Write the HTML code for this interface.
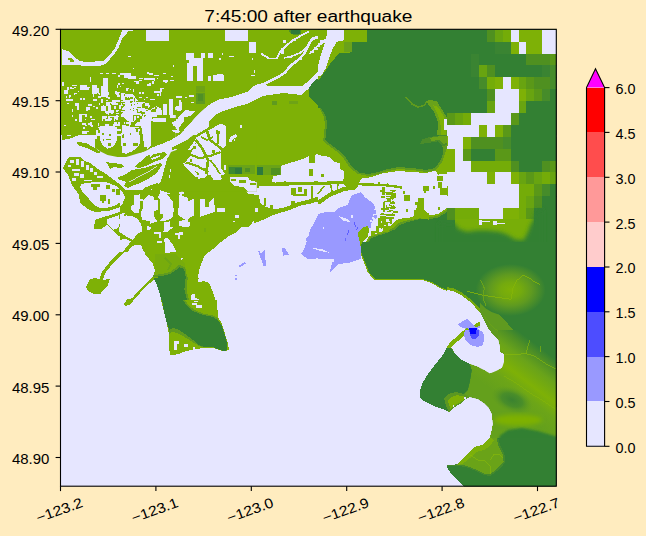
<!DOCTYPE html>
<html><head><meta charset="utf-8"><title>7:45:00 after earthquake</title>
<style>
html,body{margin:0;padding:0;background:#ffecbf;}
svg{display:block}
text{font-family:"Liberation Sans",sans-serif;fill:#000}
</style></head><body>
<svg width="646" height="536" viewBox="0 0 646 536">
<rect x="0" y="0" width="646" height="536" fill="#ffecbf"/>
<defs><clipPath id="ax"><rect x="60.5" y="29.3" width="495.8" height="456.9"/></clipPath><filter id="bl1" x="-20%" y="-20%" width="140%" height="140%"><feGaussianBlur stdDeviation="1.3"/></filter><filter id="bl2" x="-20%" y="-20%" width="140%" height="140%"><feGaussianBlur stdDeviation="2.2"/></filter><filter id="bl0" x="-20%" y="-20%" width="140%" height="140%"><feGaussianBlur stdDeviation="0.8"/></filter></defs>
<g clip-path="url(#ax)" shape-rendering="crispEdges">
<rect x="60" y="29" width="497" height="458" fill="#e6e6ff"/>
<rect fill="#7eb106" x="60.0" y="28.0" width="129.2" height="107.2"/>
<polygon fill="#e6e6ff" points="61.6,49.0 69.0,51.6 74.0,57.0 80.0,61.0 86.0,62.0 103.0,61.0 109.0,56.0 115.0,48.0 120.0,36.0 122.0,30.4 134.0,30.4 129.0,30.8 122.4,38.0 118.4,48.0 112.8,56.0 105.4,64.0 98.0,66.4 85.0,66.4 79.0,65.0 61.6,65.0"/>
<polygon fill="#7eb106" points="67.6,57.6 71.0,57.6 74.4,61.0 74.4,62.4 70.0,62.4 70.0,60.0 67.6,60.0"/>
<rect fill="#e6e6ff" x="146.0" y="30.4" width="23.0" height="10.6"/>
<rect fill="#e6e6ff" x="186.0" y="53.0" width="3.2" height="7.0"/>
<rect fill="#e6e6ff" x="187.2" y="63.0" width="2.0" height="18.0"/>
<path fill="#e6e6ff" d="M124.0 73.4H131.0V78.4H124.0ZM120.0 73.4H124.4V74.6H120.0ZM100.0 73.0H103.0V73.8H100.0ZM106.0 73.0H109.0V73.8H106.0ZM112.4 73.0H116.0V73.8H112.4ZM90.0 77.0H91.0V82.0H90.0ZM62.4 81.6H63.6V86.0H62.4ZM103.0 78.0H108.0V88.0H103.0ZM101.0 86.0H108.0V97.0H101.0ZM92.0 85.0H97.0V94.0H92.0ZM70.0 86.6H72.0V87.6H70.0ZM74.0 86.6H76.0V87.6H74.0ZM80.0 86.6H83.0V87.6H80.0ZM86.0 86.6H89.6V87.6H86.0ZM117.0 85.0H118.4V88.0H117.0ZM128.0 56.0H131.0V57.2H128.0ZM133.0 67.6H134.2V68.8H133.0ZM173.4 65.4H174.4V66.6H173.4Z"/>
<rect fill="#7eb106" x="189.0" y="28.0" width="129.2" height="107.2"/>
<rect fill="#e6e6ff" x="225.0" y="30.4" width="23.0" height="10.6"/>
<rect fill="#e6e6ff" x="249.0" y="42.0" width="7.0" height="11.0"/>
<path fill="#e6e6ff" d="M189.0 53.0H194.0V58.0H189.0ZM189.0 58.0H203.0V66.0H189.0ZM189.0 66.0H193.0V81.0H189.0ZM197.0 66.0H203.0V81.0H197.0ZM201.0 53.0H205.0V58.0H201.0ZM208.0 53.0H213.0V58.0H208.0ZM208.0 76.0H210.6V81.0H208.0ZM213.0 75.0H224.0V81.0H213.0ZM217.0 73.6H223.0V76.0H217.0ZM219.0 58.0H220.6V60.0H219.0ZM222.0 53.0H223.0V55.0H222.0ZM229.0 56.0H234.0V57.0H229.0ZM252.0 58.0H253.4V60.0H252.0ZM254.0 70.0H255.4V73.0H254.0ZM251.0 75.4H255.4V76.4H251.0Z"/>
<polygon fill="#6ea315" points="196.0,86.0 205.0,86.0 205.0,102.0 196.0,102.0"/>
<rect fill="#5f9a1e" x="272.0" y="101.0" width="5.0" height="4.0"/>
<rect fill="#6ea315" x="289.0" y="101.0" width="9.0" height="3.0"/>
<polygon fill="#4f8f28" points="289.0,30.4 301.0,30.4 301.0,34.0 295.0,35.6 290.0,33.0"/>
<polygon fill="#e6e6ff" points="189.0,125.0 195.0,117.4 200.0,112.4 205.8,107.4 211.0,103.6 219.0,99.6 231.0,97.0 247.0,92.0 253.0,86.0 259.0,84.0 267.0,85.6 302.0,86.0 309.0,81.0 318.2,71.0 318.2,80.4 313.0,84.0 307.0,90.0 301.0,95.0 283.0,93.0 263.0,96.0 247.0,104.0 235.0,107.0 223.0,111.0 215.0,115.0 209.0,122.0 201.0,130.0 195.0,135.2 189.0,135.2"/>
<polyline fill="none" stroke="#e6e6ff" stroke-width="2.6" points="259.0,86.0 269.0,81.6 279.0,76.6 285.0,72.4 291.0,65.4 298.0,60.0 304.0,54.0 308.0,46.0 312.0,39.0 318.2,37.0"/>
<polyline fill="none" stroke="#e6e6ff" stroke-width="1.8" points="261.0,53.6 269.0,58.4 277.0,58.4 280.0,52.0 287.0,45.0 293.0,40.4 301.0,35.6 309.0,31.6"/>
<path fill="#e6e6ff" d="M310.0 51.0H314.0V53.0H310.0ZM314.0 48.0H318.2V50.4H314.0ZM259.0 84.6H261.4V86.6H259.0Z"/>
<polygon fill="#338033" points="318.2,78.0 313.0,82.0 309.0,88.0 309.0,96.0 314.0,102.0 318.2,105.0"/>
<rect fill="#338033" x="318.0" y="28.0" width="129.2" height="107.2"/>
<polygon fill="#7eb106" points="318.0,30.4 367.0,30.4 367.0,41.6 352.0,41.6 352.0,52.4 339.0,53.0 335.0,58.0 330.0,64.0 326.0,70.0 321.0,77.0 318.0,80.4"/>
<rect fill="#6aa21a" x="344.0" y="42.0" width="8.0" height="10.4"/>
<polygon fill="#e6e6ff" points="327.0,30.4 344.0,30.4 344.0,40.4 337.0,41.6 333.0,48.0 329.0,58.0 326.0,68.0 321.0,76.0 318.0,76.0 318.0,66.0 320.0,58.0 324.0,46.0 327.0,34.0"/>
<path fill="#e6e6ff" d="M318.0 43.0H320.4V47.0H318.0ZM320.0 40.4H324.0V43.0H320.0ZM323.6 39.0H327.0V41.0H323.6Z"/>
<polygon fill="#7eb106" points="318.0,108.0 321.0,108.0 325.6,116.0 327.4,124.0 325.6,135.2 318.0,135.2"/>
<polygon fill="#5a9822" points="321.0,108.0 325.6,116.0 327.4,124.0 325.6,135.2 323.6,135.2 325.2,124.0 323.6,116.0 319.6,108.0"/>
<polyline fill="none" stroke="#5f9a1e" stroke-width="1.4" points="406.0,97.0 412.0,104.0 418.0,107.0 424.0,105.6 427.0,101.6"/>
<polygon fill="#6aa21a" points="426.0,101.6 430.0,99.6 437.0,101.6 443.6,112.0 447.2,118.0 447.2,135.2 437.2,135.2 438.0,122.0 434.0,112.0 430.0,106.4"/>
<polygon fill="#7eb106" points="433.0,105.0 438.0,107.0 443.0,115.0 446.0,122.0 446.0,135.2 441.0,135.2 440.4,122.0 437.0,113.0"/>
<rect fill="#e6e6ff" x="444.0" y="119.0" width="3.2" height="11.0"/>
<rect fill="#338033" x="447.0" y="28.0" width="112.0" height="107.2"/>
<rect fill="#338033" x="446.9" y="29.7" width="40.0" height="12.2"/>
<rect fill="#4f9020" x="486.7" y="29.7" width="8.3" height="12.2"/>
<rect fill="#68a410" x="494.6" y="29.7" width="8.2" height="12.2"/>
<rect fill="#74ac08" x="502.6" y="29.7" width="8.2" height="12.2"/>
<rect fill="#e6e6ff" x="510.5" y="29.7" width="8.3" height="12.2"/>
<rect fill="#7eb106" x="518.5" y="29.7" width="24.1" height="12.2"/>
<rect fill="#e6e6ff" x="542.3" y="29.7" width="16.2" height="12.2"/>
<rect fill="#338033" x="446.9" y="41.6" width="48.0" height="12.2"/>
<rect fill="#3a8432" x="494.6" y="41.6" width="16.2" height="12.2"/>
<rect fill="#7eb106" x="510.5" y="41.6" width="8.3" height="12.2"/>
<rect fill="#e6e6ff" x="518.5" y="41.6" width="8.2" height="12.2"/>
<rect fill="#7eb106" x="526.4" y="41.6" width="16.2" height="12.2"/>
<rect fill="#e6e6ff" x="542.3" y="41.6" width="16.2" height="12.2"/>
<rect fill="#338033" x="446.9" y="53.5" width="24.2" height="12.2"/>
<rect fill="#3a8432" x="470.8" y="53.5" width="8.2" height="12.2"/>
<rect fill="#338033" x="478.7" y="53.5" width="48.0" height="12.2"/>
<rect fill="#4f9020" x="526.4" y="53.5" width="24.2" height="12.2"/>
<rect fill="#5a9818" x="550.3" y="53.5" width="8.3" height="12.2"/>
<rect fill="#338033" x="446.9" y="65.4" width="24.2" height="12.2"/>
<rect fill="#3a8432" x="470.8" y="65.4" width="8.2" height="12.2"/>
<rect fill="#68a410" x="478.7" y="65.4" width="8.2" height="12.2"/>
<rect fill="#4f9020" x="486.7" y="65.4" width="8.3" height="12.2"/>
<rect fill="#338033" x="494.6" y="65.4" width="48.0" height="12.2"/>
<rect fill="#3a8432" x="542.3" y="65.4" width="8.3" height="12.2"/>
<rect fill="#468c2a" x="550.3" y="65.4" width="8.3" height="12.2"/>
<rect fill="#338033" x="446.9" y="77.3" width="32.1" height="12.2"/>
<rect fill="#468c2a" x="478.7" y="77.3" width="8.2" height="12.2"/>
<rect fill="#74ac08" x="486.7" y="77.3" width="8.3" height="12.2"/>
<rect fill="#7eb106" x="494.6" y="77.3" width="8.2" height="12.2"/>
<rect fill="#e6e6ff" x="502.6" y="77.3" width="8.2" height="12.2"/>
<rect fill="#7eb106" x="510.5" y="77.3" width="8.3" height="12.2"/>
<rect fill="#68a410" x="518.5" y="77.3" width="8.2" height="12.2"/>
<rect fill="#5a9818" x="526.4" y="77.3" width="8.3" height="12.2"/>
<rect fill="#4f9020" x="534.4" y="77.3" width="16.2" height="12.2"/>
<rect fill="#468c2a" x="550.3" y="77.3" width="8.3" height="12.2"/>
<rect fill="#338033" x="446.9" y="89.2" width="40.0" height="12.2"/>
<rect fill="#4f9020" x="486.7" y="89.2" width="8.3" height="12.2"/>
<rect fill="#e6e6ff" x="494.6" y="89.2" width="24.2" height="12.2"/>
<rect fill="#7eb106" x="518.5" y="89.2" width="8.2" height="12.2"/>
<rect fill="#68a410" x="526.4" y="89.2" width="8.3" height="12.2"/>
<rect fill="#5a9818" x="534.4" y="89.2" width="8.2" height="12.2"/>
<rect fill="#468c2a" x="542.3" y="89.2" width="8.3" height="12.2"/>
<rect fill="#338033" x="550.3" y="89.2" width="8.3" height="12.2"/>
<rect fill="#338033" x="446.9" y="101.1" width="40.0" height="12.2"/>
<rect fill="#68a410" x="486.7" y="101.1" width="8.3" height="12.2"/>
<rect fill="#e6e6ff" x="494.6" y="101.1" width="24.2" height="12.2"/>
<rect fill="#68a410" x="518.5" y="101.1" width="8.2" height="12.2"/>
<rect fill="#338033" x="526.4" y="101.1" width="32.1" height="12.2"/>
<rect fill="#5a9818" x="446.9" y="112.9" width="8.3" height="12.2"/>
<rect fill="#68a410" x="454.9" y="112.9" width="8.2" height="12.2"/>
<rect fill="#74ac08" x="462.8" y="112.9" width="8.2" height="12.2"/>
<rect fill="#e6e6ff" x="470.8" y="112.9" width="40.0" height="12.2"/>
<rect fill="#5a9818" x="510.5" y="112.9" width="8.3" height="12.2"/>
<rect fill="#338033" x="518.5" y="112.9" width="40.0" height="12.2"/>
<rect fill="#e6e6ff" x="446.9" y="124.8" width="32.1" height="12.2"/>
<rect fill="#7eb106" x="478.7" y="124.8" width="8.2" height="12.2"/>
<rect fill="#e6e6ff" x="486.7" y="124.8" width="8.3" height="12.2"/>
<rect fill="#7eb106" x="494.6" y="124.8" width="8.2" height="12.2"/>
<rect fill="#5a9818" x="502.6" y="124.8" width="8.2" height="12.2"/>
<rect fill="#338033" x="510.5" y="124.8" width="48.0" height="12.2"/>
<polygon fill="#7eb106" points="61.6,135.0 79.0,135.0 70.0,138.6 61.6,140.0"/>
<polygon fill="#7eb106" points="77.0,142.0 86.0,143.0 96.0,148.6 100.4,152.0 98.0,153.4 88.0,148.4 78.0,145.0"/>
<polygon fill="#7eb106" points="100.0,135.0 101.0,143.0 108.0,148.0 110.0,155.0 126.0,156.6 138.0,153.0 148.0,148.0 151.0,135.0"/>
<path fill="#e6e6ff" d="M103.0 135.0H109.0V142.0H103.0ZM112.4 139.0H116.0V147.0H112.4ZM120.0 135.0H124.0V141.0H120.0ZM120.0 143.0H128.0V146.0H120.0ZM128.0 135.0H133.0V144.0H128.0ZM136.0 135.0H140.0V141.0H136.0ZM142.4 135.0H148.0V139.0H142.4ZM126.0 149.0H132.0V152.0H126.0ZM139.0 145.0H143.0V149.0H139.0ZM110.0 135.0H112.4V138.0H110.0Z"/>
<polygon fill="#7eb106" points="151.0,135.0 174.0,135.0 171.2,137.4 165.0,142.0 158.8,145.0 152.4,147.0 150.4,147.0 150.0,143.0"/>
<polygon fill="#7eb106" points="146.0,156.0 164.0,152.0 167.0,154.0 162.0,159.0 154.0,162.0 148.0,165.0 139.0,168.0 134.0,167.0 140.0,162.0"/>
<polygon fill="#e6e6ff" points="151.0,158.0 160.0,155.0 161.0,156.2 152.0,160.0"/>
<polygon fill="#7eb106" points="117.0,178.0 126.0,174.0 132.0,170.0 144.0,168.0 154.0,165.0 160.0,163.0 162.0,165.0 158.0,171.0 154.0,175.0 148.0,179.0 140.0,183.0 132.0,186.0 128.0,188.0 124.0,186.0 126.0,182.0 120.0,180.0"/>
<polyline fill="none" stroke="#e6e6ff" stroke-width="0.8" points="129.0,182.0 140.0,176.0 150.0,171.0 157.0,166.0"/>
<polygon fill="#7eb106" points="144.0,188.0 154.0,184.0 158.4,182.6 156.4,187.0 148.0,191.0 143.0,191.0"/>
<polygon fill="#7eb106" points="105.0,162.0 112.0,163.0 122.0,164.0 124.0,167.0 120.0,168.0 114.0,167.0 110.0,169.4 108.0,165.0"/>
<polygon fill="#7eb106" points="63.0,168.0 66.0,162.0 69.0,157.0 80.0,156.6 84.0,161.0 90.0,163.0 98.0,169.0 106.0,174.0 114.0,180.0 122.0,186.0 126.0,191.0 127.0,197.0 124.0,203.0 118.0,208.0 110.0,210.6 102.0,211.4 95.0,212.0 88.0,209.0 80.0,203.0 79.0,195.0 72.0,185.0 68.0,175.0"/>
<polygon fill="#e6e6ff" points="81.0,184.0 90.0,182.6 100.0,181.6 108.0,182.6 116.0,186.0 122.4,192.0 124.0,197.0 121.0,202.0 114.0,206.0 106.0,208.0 100.0,208.0 94.0,205.0 89.0,199.0 83.0,193.0 80.0,187.4"/>
<path fill="#7eb106" d="M91.0 184.0H100.0V187.4H91.0ZM93.0 187.4H97.0V190.0H93.0ZM106.0 185.0H110.0V189.4H106.0ZM116.0 189.4H119.6V195.0H116.0ZM100.0 195.0H106.0V200.6H100.0ZM102.0 200.6H104.4V203.0H102.0ZM108.0 198.6H110.0V204.0H108.0ZM112.4 189.0H115.0V192.0H112.4Z"/>
<path fill="#e6e6ff" d="M70.0 160.0H74.0V163.0H70.0ZM76.0 158.6H79.0V165.0H76.0ZM81.0 161.0H83.6V167.0H81.0ZM72.0 169.0H80.0V171.0H72.0ZM74.0 173.0H79.0V176.0H74.0ZM80.0 174.0H84.0V178.0H80.0ZM86.0 165.0H89.0V170.0H86.0ZM90.0 168.0H93.0V172.0H90.0ZM94.0 172.0H97.0V175.0H94.0ZM84.0 180.0H92.0V181.4H84.0ZM72.0 178.0H76.0V180.6H72.0ZM68.0 165.0H71.0V167.0H68.0ZM97.0 176.0H103.0V178.0H97.0Z"/>
<polygon fill="#7eb106" points="189.2,152.0 182.0,150.0 177.0,151.0 172.0,153.0 168.0,157.0 166.0,163.0 164.0,170.0 162.0,178.0 160.0,183.0 154.0,188.0 149.0,192.0 143.0,193.0 139.0,192.0 134.0,192.0 131.0,195.0 129.0,201.0 127.0,206.0 122.0,211.0 114.0,214.0 107.0,216.0 100.0,218.0 95.0,220.0 94.0,229.0 101.0,229.4 107.0,224.6 113.0,230.6 119.0,236.0 128.0,239.0 134.0,242.2 189.2,242.2"/>
<polygon fill="#e6e6ff" points="133.0,195.0 140.0,194.0 140.0,202.0 143.0,202.0 143.0,211.0 140.0,211.0 137.0,214.0 132.0,214.0 130.0,209.0 131.0,201.0"/>
<polygon fill="#e6e6ff" points="144.0,195.0 160.0,193.0 160.0,201.0 157.0,202.0 157.0,209.0 154.0,212.0 154.0,219.0 148.0,221.0 143.0,219.0 143.0,212.0 144.4,212.0"/>
<polygon fill="#e6e6ff" points="161.0,199.0 169.0,199.0 169.0,205.0 164.0,205.0 164.0,215.0 160.0,215.0 160.0,201.0"/>
<polygon fill="#e6e6ff" points="166.0,220.0 189.2,219.0 189.2,221.4 178.0,222.2 178.0,228.0 166.0,228.0"/>
<polygon fill="#e6e6ff" points="184.4,163.0 189.2,160.6 189.2,172.6 185.0,168.0"/>
<rect fill="#e6e6ff" x="180.8" y="192.0" width="1.8" height="4.6"/>
<polygon fill="#e6e6ff" points="107.0,219.0 114.0,217.0 119.0,215.0 120.0,223.0 118.0,228.0 113.0,230.0 107.0,224.0"/>
<polygon fill="#e6e6ff" points="122.0,214.0 126.0,213.0 132.0,215.0 139.0,219.0 140.0,223.0 148.0,223.0 148.0,230.0 142.0,233.0 138.0,235.0 130.0,239.0 128.0,235.0 120.0,235.0 119.0,229.0 121.0,223.0"/>
<polygon fill="#e6e6ff" points="151.0,226.0 160.0,225.0 166.0,229.0 166.0,233.0 160.0,233.0 160.0,242.2 156.0,242.2 156.0,233.0 151.0,233.0"/>
<path fill="#7eb106" d="M141.0 201.0H142.4V207.0H141.0ZM154.0 214.0H156.0V218.0H154.0ZM124.0 215.0H126.0V217.4H124.0ZM129.0 214.0H130.4V216.0H129.0Z"/>
<path fill="#e6e6ff" d="M178.0 235.0H183.0V238.0H178.0ZM180.0 232.0H182.4V235.0H180.0ZM174.0 202.0H176.0V205.0H174.0ZM169.0 175.0H170.4V178.0H169.0ZM170.0 169.0H171.2V172.0H170.0Z"/>
<polygon fill="#7eb106" points="189.0,135.0 318.2,135.0 318.2,201.0 309.0,204.0 301.0,205.4 291.0,209.4 283.0,212.0 273.0,215.0 265.0,219.0 255.0,223.0 247.0,226.0 239.0,229.0 235.0,233.0 229.0,237.0 221.0,242.2 189.0,242.2"/>
<polygon fill="#e6e6ff" points="189.0,142.0 195.0,139.0 198.0,135.0 206.0,135.0 208.0,141.0 213.0,145.0 219.0,143.4 223.0,146.0 224.0,155.0 222.0,165.0 223.0,175.0 227.0,182.6 221.0,180.6 209.0,177.4 201.0,175.0 189.0,174.0"/>
<polyline fill="none" stroke="#7eb106" stroke-width="4.4" points="189.0,147.0 201.0,159.0 211.0,169.0 222.0,178.0 229.0,183.0"/>
<polyline fill="none" stroke="#7eb106" stroke-width="3.6" points="195.0,152.0 207.0,155.0 219.0,151.0"/>
<polyline fill="none" stroke="#7eb106" stroke-width="3.6" points="189.0,161.0 199.0,165.0 206.0,174.0"/>
<polyline fill="none" stroke="#7eb106" stroke-width="5.2" points="221.0,143.0 219.0,159.0 221.0,175.0"/>
<polyline fill="none" stroke="#7eb106" stroke-width="3.2" points="201.0,141.0 209.0,149.0 215.0,163.0"/>
<polyline fill="none" stroke="#7eb106" stroke-width="2.8" points="189.0,155.0 197.0,154.0 201.0,147.0"/>
<path fill="#7eb106" d="M204.0 165.0H208.0V170.0H204.0ZM193.0 147.0H198.0V151.0H193.0ZM209.0 139.0H215.0V144.0H209.0Z"/>
<polygon fill="#e6e6ff" points="280.0,166.0 293.0,162.0 304.0,158.6 309.0,156.0 309.0,163.0 315.0,163.0 315.0,155.0 318.2,153.4 318.2,181.4 293.0,182.0 285.0,181.4 275.0,182.6 272.0,182.0 273.0,176.0 280.0,175.0"/>
<rect fill="#7eb106" x="309.0" y="169.0" width="4.0" height="7.0"/>
<polygon fill="#e6e6ff" points="259.0,186.0 318.2,185.0 318.2,196.6 309.0,199.4 301.0,201.4 291.0,205.0 283.0,207.8 274.0,209.4 266.0,207.0 260.0,203.0 259.0,195.0 249.0,195.0 249.0,188.0 259.0,188.0"/>
<polygon fill="#e6e6ff" points="233.0,183.0 249.0,186.0 249.0,195.0 245.0,189.0 232.0,185.0"/>
<path fill="#7eb106" d="M291.0 188.0H296.0V195.0H291.0ZM298.0 187.4H302.0V192.0H298.0ZM304.0 189.0H307.0V196.0H304.0ZM293.0 194.0H305.0V196.0H293.0ZM264.0 198.0H266.0V206.0H264.0ZM270.0 205.0H273.0V210.0H270.0ZM291.0 201.0H295.0V208.0H291.0ZM311.0 186.0H313.0V199.0H311.0ZM297.0 202.0H305.0V203.4H297.0Z"/>
<path fill="#e6e6ff" d="M189.0 199.0H197.0V217.0H189.0ZM199.0 199.0H214.0V202.0H199.0ZM199.0 202.0H209.0V212.0H199.0ZM199.0 212.0H203.0V216.6H199.0ZM217.0 208.0H224.0V212.0H217.0ZM234.0 215.0H238.0V217.0H234.0ZM231.0 220.0H233.4V222.2H231.0ZM255.0 208.0H258.0V212.0H255.0Z"/>
<rect fill="#6aa318" x="228.0" y="165.0" width="53.0" height="10.0"/>
<rect fill="#2e7a3c" x="229.0" y="166.6" width="13.0" height="7.4"/>
<rect fill="#4f9020" x="243.0" y="167.0" width="13.0" height="5.0"/>
<rect fill="#2e7a3c" x="257.0" y="167.4" width="6.0" height="7.2"/>
<rect fill="#4f9020" x="271.0" y="168.0" width="9.0" height="6.6"/>
<polygon fill="#9999ff" points="318.2,221.0 315.4,223.0 314.6,221.4 313.0,225.0 311.4,229.0 309.0,235.0 306.0,239.0 307.0,242.2 318.2,242.2"/>
<rect fill="#e6e6ff" x="318.0" y="135.0" width="129.2" height="107.2"/>
<polygon fill="#7eb106" points="318.0,135.0 447.2,135.0 447.2,174.0 438.0,174.6 436.0,170.6 426.0,173.0 412.0,172.0 398.0,171.0 382.0,173.4 370.0,177.4 361.0,178.6 360.0,181.4 357.0,188.0 348.0,189.0 342.0,183.0 344.0,178.0 344.0,171.0 340.0,169.0 340.0,163.0 334.0,162.0 330.0,157.0 324.0,156.0 318.0,155.0"/>
<polygon fill="#5f9a20" points="324.0,135.0 323.0,141.0 328.0,145.0 336.0,151.0 344.0,159.0 350.0,168.0 358.0,174.0 368.0,176.0 378.0,174.0 386.0,171.6 398.0,169.0 412.0,170.0 426.0,172.0 436.0,170.0 442.0,162.0 445.2,153.0 447.2,147.0 447.2,135.0"/>
<polygon fill="#338033" points="326.0,135.0 325.2,140.0 330.0,144.0 338.0,150.0 346.0,158.0 352.0,167.0 359.6,172.6 368.0,174.0 378.0,172.0 386.0,169.6 398.0,167.0 412.0,168.0 426.0,170.0 435.0,168.0 440.4,160.6 443.4,153.0 442.4,146.0 438.0,141.4 430.0,142.6 420.0,144.0 422.0,139.4 430.0,137.0 442.0,135.0"/>
<polygon fill="#4a8c2a" points="422.0,139.4 430.0,137.0 442.0,135.0 447.2,135.0 447.2,145.0 442.4,146.0 438.0,141.4 430.0,142.6 420.0,144.0"/>
<polygon fill="#6aa31a" points="430.0,137.8 442.0,135.8 447.2,135.8 447.2,143.0 443.0,144.0 439.0,140.0 431.0,141.0"/>
<rect fill="#7eb106" x="321.0" y="174.0" width="2.6" height="3.0"/>
<polyline fill="none" stroke="#7eb106" stroke-width="3.2" points="318.0,183.6 344.0,182.2 358.0,185.4"/>
<polyline fill="none" stroke="#7eb106" stroke-width="4.0" points="318.0,203.0 330.0,194.6 344.0,189.0 356.0,187.4"/>
<polyline fill="none" stroke="#7eb106" stroke-width="1.6" points="318.0,194.0 324.0,186.0"/>
<polyline fill="none" stroke="#7eb106" stroke-width="1.6" points="330.4,183.0 332.4,193.4"/>
<polyline fill="none" stroke="#7eb106" stroke-width="1.6" points="338.0,183.0 337.0,193.0"/>
<polyline fill="none" stroke="#7eb106" stroke-width="2.4" points="358.0,184.2 384.0,185.0 402.0,187.4"/>
<path fill="#7eb106" d="M382.0 187.4H385.0V195.0H382.0ZM386.0 192.0H390.0V195.0H386.0ZM391.0 193.0H396.0V197.0H391.0ZM387.0 198.0H391.0V202.0H387.0ZM383.0 202.0H385.0V211.0H383.0ZM391.0 206.0H395.0V209.0H391.0ZM378.0 182.0H380.4V184.0H378.0ZM387.0 183.0H388.4V187.4H387.0ZM400.0 186.0H402.0V189.0H400.0ZM403.0 191.0H405.0V194.0H403.0ZM404.0 195.0H410.0V201.0H404.0ZM423.0 186.0H429.0V191.0H423.0ZM424.0 191.0H426.0V193.4H424.0ZM418.0 198.0H423.0V205.0H418.0ZM420.0 205.0H423.0V217.0H420.0ZM415.0 202.0H418.0V205.0H415.0ZM437.0 176.0H443.0V181.0H437.0ZM438.0 182.0H442.0V188.0H438.0ZM440.0 188.0H447.2V195.0H440.0ZM438.0 207.0H440.4V210.0H438.0ZM433.0 186.0H435.0V188.6H433.0ZM406.0 209.4H408.4V212.0H406.0ZM414.0 210.0H418.0V217.0H414.0ZM388.0 199.0H390.0V201.0H388.0Z"/>
<polygon fill="#9999ff" points="352.0,195.0 361.0,192.0 368.0,201.0 375.0,206.0 376.0,213.0 378.0,217.0 372.0,221.0 370.4,229.0 366.0,226.0 360.0,231.0 357.0,242.2 318.0,242.2 318.0,214.0 326.0,212.0 336.0,212.0 338.0,208.0 348.0,205.0 350.0,199.0"/>
<polygon fill="#e6e6ff" points="337.0,215.0 344.0,216.0 346.0,220.0 340.0,219.0"/>
<path fill="#e6e6ff" d="M350.6 215.4H352.4V217.4H350.6ZM324.0 226.6H325.2V228.6H324.0Z"/>
<polyline fill="none" stroke="#4d4dff" stroke-width="0.6" points="355.0,222.0 358.0,229.0"/>
<polyline fill="none" stroke="#4d4dff" stroke-width="0.6" points="351.0,229.0 346.0,235.0"/>
<polyline fill="none" stroke="#4d4dff" stroke-width="0.6" points="346.0,238.0 345.0,241.0"/>
<path fill="#7eb106" d="M378.0 218.0H381.0V225.0H378.0ZM382.0 221.0H384.0V228.0H382.0ZM376.0 226.0H379.0V231.0H376.0ZM386.0 223.0H388.0V227.0H386.0ZM390.0 220.0H392.4V224.0H390.0ZM371.0 231.0H375.0V235.0H371.0ZM384.0 229.0H387.0V231.0H384.0Z"/>
<polygon fill="#7eb106" points="366.0,242.2 369.0,236.0 378.0,233.0 388.0,229.4 392.4,225.0 396.4,220.0 406.0,218.6 414.0,216.6 422.0,214.6 430.0,215.4 438.0,214.0 447.2,208.0 447.2,242.2"/>
<polygon fill="#5f9a20" points="367.0,242.2 370.0,237.0 378.0,234.2 388.0,231.0 394.0,227.4 398.0,223.0 406.0,220.6 414.0,218.6 422.0,216.6 430.0,217.2 438.0,215.8 447.2,209.6 447.2,242.2"/>
<polygon fill="#338033" points="368.0,242.2 371.6,238.2 378.0,235.6 388.0,232.6 395.6,229.0 400.0,225.0 406.0,222.6 414.0,220.6 422.0,218.4 430.0,219.0 438.0,217.6 447.2,212.0 447.2,242.2"/>
<polygon fill="#7eb106" points="357.0,242.2 358.0,234.0 361.0,229.0 367.0,225.4 368.4,231.0 366.0,237.0 363.0,242.2"/>
<rect fill="#338033" x="447.0" y="137.0" width="112.0" height="105.2"/>
<rect fill="#e6e6ff" x="446.9" y="136.7" width="16.2" height="12.2"/>
<rect fill="#7eb106" x="462.8" y="136.7" width="8.2" height="12.2"/>
<rect fill="#4f9020" x="470.8" y="136.7" width="32.1" height="12.2"/>
<rect fill="#468c2a" x="502.6" y="136.7" width="8.2" height="12.2"/>
<rect fill="#338033" x="510.5" y="136.7" width="48.0" height="12.2"/>
<rect fill="#7eb106" x="446.9" y="148.6" width="8.3" height="12.2"/>
<rect fill="#e6e6ff" x="454.9" y="148.6" width="8.2" height="12.2"/>
<rect fill="#5a9818" x="462.8" y="148.6" width="8.2" height="12.2"/>
<rect fill="#338033" x="470.8" y="148.6" width="24.2" height="12.2"/>
<rect fill="#5a9818" x="494.6" y="148.6" width="16.2" height="12.2"/>
<rect fill="#338033" x="510.5" y="148.6" width="48.0" height="12.2"/>
<rect fill="#7eb106" x="446.9" y="160.5" width="8.3" height="12.2"/>
<rect fill="#e6e6ff" x="454.9" y="160.5" width="16.2" height="12.2"/>
<rect fill="#74ac08" x="470.8" y="160.5" width="40.0" height="12.2"/>
<rect fill="#4f9020" x="510.5" y="160.5" width="8.3" height="12.2"/>
<rect fill="#338033" x="518.5" y="160.5" width="24.1" height="12.2"/>
<rect fill="#4f9020" x="542.3" y="160.5" width="8.3" height="12.2"/>
<rect fill="#5a9818" x="550.3" y="160.5" width="8.3" height="12.2"/>
<rect fill="#e6e6ff" x="446.9" y="172.4" width="40.0" height="12.2"/>
<rect fill="#7eb106" x="486.7" y="172.4" width="8.3" height="12.2"/>
<rect fill="#e6e6ff" x="494.6" y="172.4" width="16.2" height="12.2"/>
<rect fill="#7eb106" x="510.5" y="172.4" width="8.3" height="12.2"/>
<rect fill="#68a410" x="518.5" y="172.4" width="8.2" height="12.2"/>
<rect fill="#5a9818" x="526.4" y="172.4" width="8.3" height="12.2"/>
<rect fill="#68a410" x="534.4" y="172.4" width="8.2" height="12.2"/>
<rect fill="#74ac08" x="542.3" y="172.4" width="8.3" height="12.2"/>
<rect fill="#68a410" x="550.3" y="172.4" width="8.3" height="12.2"/>
<rect fill="#e6e6ff" x="446.9" y="184.3" width="71.9" height="12.2"/>
<rect fill="#74ac08" x="518.5" y="184.3" width="16.2" height="12.2"/>
<rect fill="#5a9818" x="534.4" y="184.3" width="8.2" height="12.2"/>
<rect fill="#468c2a" x="542.3" y="184.3" width="8.3" height="12.2"/>
<rect fill="#338033" x="550.3" y="184.3" width="8.3" height="12.2"/>
<rect fill="#e6e6ff" x="446.9" y="196.2" width="71.9" height="12.2"/>
<rect fill="#74ac08" x="518.5" y="196.2" width="8.2" height="12.2"/>
<rect fill="#68a410" x="526.4" y="196.2" width="8.3" height="12.2"/>
<rect fill="#4f9020" x="534.4" y="196.2" width="8.2" height="12.2"/>
<rect fill="#338033" x="542.3" y="196.2" width="16.2" height="12.2"/>
<rect fill="#4f9020" x="446.9" y="208.1" width="8.3" height="12.2"/>
<rect fill="#74ac08" x="454.9" y="208.1" width="24.1" height="12.2"/>
<rect fill="#e6e6ff" x="478.7" y="208.1" width="24.2" height="12.2"/>
<rect fill="#7eb106" x="502.6" y="208.1" width="16.2" height="12.2"/>
<rect fill="#74ac08" x="518.5" y="208.1" width="8.2" height="12.2"/>
<rect fill="#5a9818" x="526.4" y="208.1" width="8.3" height="12.2"/>
<rect fill="#338033" x="534.4" y="208.1" width="24.2" height="12.2"/>
<rect fill="#338033" x="446.9" y="220.0" width="8.3" height="12.2"/>
<rect fill="#74ac08" x="454.9" y="220.0" width="40.0" height="12.2"/>
<rect fill="#7eb106" x="494.6" y="220.0" width="24.2" height="12.2"/>
<rect fill="#74ac08" x="518.5" y="220.0" width="8.2" height="12.2"/>
<rect fill="#4f9020" x="526.4" y="220.0" width="8.3" height="12.2"/>
<rect fill="#338033" x="534.4" y="220.0" width="24.2" height="12.2"/>
<rect fill="#7eb106" x="447.0" y="186.0" width="1.0" height="10.0"/>
<rect fill="#7eb106" x="447.0" y="136.2" width="1.0" height="9.8"/>
<polygon fill="#78ae08" points="455.0,219.0 534.4,219.0 534.4,243.0 455.0,243.0"/>
<polygon fill="#338033" points="439.0,223.0 455.0,223.6 458.6,229.0 467.0,231.8 477.0,230.6 487.0,230.6 499.0,231.8 507.0,234.6 515.0,239.4 523.4,240.2 527.8,232.6 530.6,224.6 533.0,221.0 536.0,209.4 543.0,209.4 543.0,247.0 439.0,247.0" filter="url(#bl2)" shape-rendering="auto"/>
<path fill="#e6e6ff" d="M479.0 220.0H482.0V225.0H479.0ZM482.0 221.0H490.0V222.4H482.0ZM493.0 221.0H497.0V225.4H493.0ZM497.0 223.0H505.0V224.4H497.0Z"/>
<polyline fill="none" stroke="#7eb106" stroke-width="3.4" points="132.4,242.0 120.0,254.4 110.0,264.4 103.6,272.4 101.0,280.0"/>
<polygon fill="#7eb106" points="86.0,287.0 90.0,279.0 96.0,278.0 101.0,280.0 110.0,279.0 108.0,285.0 104.0,289.0 100.0,294.4 94.0,294.0 88.0,291.0"/>
<polyline fill="none" stroke="#7eb106" stroke-width="2.6" points="154.8,277.2 148.0,283.0 140.0,291.0 134.0,298.0 130.4,301.0"/>
<polygon fill="#7eb106" points="123.6,304.0 127.0,299.6 132.0,298.4 133.4,301.0 129.0,305.0 125.0,306.0"/>
<polygon fill="#7eb106" points="128.0,242.0 189.2,242.0 189.2,262.0 180.0,266.0 172.0,274.0 164.0,276.4 155.0,278.4 153.0,272.0 154.0,266.0 148.0,260.0 145.0,254.0 143.0,248.0 139.0,245.0 133.0,245.0"/>
<polygon fill="#74a90c" points="146.0,246.0 164.0,246.0 172.0,254.0 172.0,264.0 164.0,272.0 156.0,274.0 154.0,266.0 149.0,259.0"/>
<polyline fill="none" stroke="#6aa318" stroke-width="1.6" points="160.0,254.0 164.0,264.0 160.0,272.0"/>
<polyline fill="none" stroke="#6aa318" stroke-width="1.6" points="169.0,258.0 167.0,266.0"/>
<polygon fill="#e6e6ff" points="164.0,242.0 173.0,242.0 177.0,250.0 178.0,256.0 175.0,256.0 172.0,250.0 166.0,246.0"/>
<path fill="#e6e6ff" d="M176.0 260.0H183.0V262.4H176.0ZM179.0 258.0H184.0V260.4H179.0Z"/>
<polygon fill="#338033" points="154.0,278.4 164.0,276.0 172.0,274.0 180.0,266.0 189.2,262.0 189.2,349.2 171.0,349.2 169.0,332.0 166.0,318.0 162.0,302.0 158.0,288.0"/>
<polygon fill="#5f9a20" points="189.2,268.0 185.0,280.0 184.4,290.0 187.0,300.0 189.2,305.0"/>
<polygon fill="#7eb106" points="189.2,272.0 187.0,282.0 186.8,292.0 189.2,300.0"/>
<polygon fill="#5f9a20" points="170.0,349.2 169.6,338.0 173.6,328.4 180.0,330.0 189.2,334.0 189.2,349.2"/>
<polygon fill="#7eb106" points="171.0,349.2 170.6,340.0 174.4,332.0 180.0,334.0 189.2,338.0 189.2,349.2"/>
<path fill="#e6e6ff" d="M175.0 341.0H179.0V346.0H175.0ZM184.0 344.0H188.0V347.0H184.0ZM177.0 340.0H180.0V342.0H177.0Z"/>
<polygon fill="#7eb106" points="189.0,242.0 221.0,242.0 219.0,245.0 209.0,250.0 203.0,256.0 201.0,264.0 198.0,272.0 198.0,278.0 203.0,281.0 209.0,283.0 213.0,292.0 216.0,302.0 217.0,314.0 223.0,326.0 226.0,338.0 229.0,349.2 189.0,349.2"/>
<polygon fill="#6aa318" points="189.0,307.0 197.0,309.0 208.0,312.0 216.0,316.4 220.6,326.0 224.2,336.0 227.4,349.2 189.0,349.2"/>
<polygon fill="#338033" points="189.0,310.0 197.0,312.0 207.0,315.0 214.6,319.6 218.6,327.0 222.2,337.0 225.4,349.2 213.0,349.2 201.0,346.0 189.0,336.0"/>
<polygon fill="#5f9a20" points="189.0,334.4 201.0,344.4 214.0,349.2 189.0,349.2"/>
<polygon fill="#7eb106" points="189.0,338.0 200.0,346.8 207.0,349.2 189.0,349.2"/>
<rect fill="#e6e6ff" x="208.0" y="347.0" width="5.0" height="2.2"/>
<polygon fill="#e6e6ff" points="191.0,295.0 195.0,293.6 195.0,298.0 199.0,299.0 199.0,302.0 191.0,301.0"/>
<path fill="#e6e6ff" d="M197.0 304.4H202.0V307.6H197.0ZM192.0 304.0H195.0V305.2H192.0ZM198.0 279.0H202.0V281.6H198.0Z"/>
<polygon fill="#9999ff" points="238.0,266.0 245.0,262.0 246.0,263.6 240.0,267.0"/>
<polygon fill="#9999ff" points="258.0,251.0 259.4,251.0 261.0,254.0 264.6,249.6 266.0,266.0 263.4,265.6 261.0,259.0"/>
<polygon fill="#9999ff" points="282.0,248.0 285.0,248.0 289.0,255.0 283.0,255.6"/>
<polygon fill="#9999ff" points="301.0,254.0 306.0,246.0 309.0,242.0 318.2,242.0 318.2,258.0 309.0,259.0 306.0,255.0"/>
<polygon fill="#e6e6ff" points="313.0,247.0 318.2,248.0 318.2,249.6 314.0,248.8"/>
<path fill="#9999ff" d="M235.0 275.0H237.0V276.0H235.0ZM234.6 278.4H237.0V279.6H234.6Z"/>
<rect fill="#e6e6ff" x="318.0" y="242.0" width="129.2" height="107.2"/>
<polygon fill="#9999ff" points="318.0,242.0 359.0,242.0 360.4,252.0 361.0,259.0 348.0,263.0 338.0,264.0 333.0,269.0 329.6,272.0 331.6,264.4 334.0,259.0 318.0,259.0"/>
<polyline fill="none" stroke="#e6e6ff" stroke-width="1.0" points="319.0,248.4 326.0,251.0 330.4,250.4"/>
<path fill="#e6e6ff" d="M335.6 250.0H336.8V252.4H335.6ZM332.4 259.0H334.0V262.0H332.4Z"/>
<polygon fill="#7eb106" points="359.6,242.0 359.8,252.0 363.8,262.0 367.8,272.4 374.2,280.0 402.0,280.0 422.0,280.0 431.6,283.0 439.6,288.0 447.2,291.2 447.2,242.0"/>
<polygon fill="#338033" points="361.0,242.0 361.0,252.0 365.0,262.0 369.0,272.0 375.0,279.0 402.0,279.0 422.0,279.0 432.0,282.0 440.0,287.0 447.2,290.0 447.2,242.0"/>
<polygon fill="#338033" points="445.2,349.2 447.2,346.8 447.2,349.2"/>
<rect fill="#338033" x="447.0" y="242.0" width="112.0" height="107.2"/>
<polyline fill="none" stroke="#4f9028" stroke-width="8.0" points="484.0,319.0 493.0,324.4 503.0,332.4 513.0,340.4 527.0,346.4 541.0,350.0"/>
<polyline fill="none" stroke="#6aa318" stroke-width="2.4" points="486.0,321.0 495.0,327.0 505.0,335.6 515.0,343.0 527.0,347.6"/>
<polyline fill="none" stroke="#6aa318" stroke-width="1.0" points="527.0,338.4 531.0,342.4 529.0,349.2"/>
<polygon fill="#74a90c" points="447.0,287.2 453.0,288.2 461.4,292.4 470.0,298.6 476.6,305.0 482.0,311.4 486.2,318.0 488.4,325.6 489.0,332.0 494.2,335.6 500.2,338.8 501.4,349.2 447.0,349.2"/>
<polygon fill="#e6e6ff" points="447.0,290.0 453.0,291.0 461.0,295.0 469.0,301.0 475.0,307.0 480.0,313.0 484.0,319.0 486.0,326.0 487.0,333.0 493.0,337.0 498.0,340.0 499.4,349.2 447.0,349.2"/>
<polygon fill="#9999ff" points="458.0,324.0 467.0,319.0 470.0,321.0 473.0,325.0 482.0,327.0 481.0,328.4 477.0,328.0 484.0,334.0 485.0,340.0 481.0,346.0 473.0,347.0 466.0,343.0 464.0,338.0 467.0,333.0 466.0,329.0 459.0,326.0"/>
<polygon fill="#4d4dff" points="467.0,329.0 477.0,329.0 479.0,334.0 477.0,339.0 471.0,340.0 468.0,336.0"/>
<polygon fill="#0000ff" points="468.6,328.4 476.6,328.4 476.6,335.6 468.6,335.6"/>
<polygon fill="#7eb106" points="447.0,346.0 453.0,340.0 459.0,334.0 467.0,328.0 469.4,330.0 463.0,335.4 457.0,341.4 451.0,349.2 447.0,349.2"/>
<polygon fill="#7eb106" points="474.0,325.0 479.0,322.0 484.0,318.6 486.4,321.0 480.0,325.4 476.0,327.6"/>
<polygon fill="#7eb106" points="161.0,300.0 164.0,312.0 167.0,324.0 169.4,336.0 169.4,350.0 170.0,355.0 177.0,354.4 185.0,351.6 195.0,349.0 205.0,348.0 213.0,347.6 219.0,350.0 224.0,351.6 229.0,350.0 228.0,344.0 225.0,334.0 222.0,324.0 218.0,317.0 217.4,308.0 217.0,300.0"/>
<polygon fill="#5f9a20" points="169.4,328.0 173.0,325.6 179.4,327.6 186.0,331.6 194.0,337.6 200.0,342.6 207.0,345.6 205.0,347.4 199.0,346.0 191.0,341.0 183.0,336.0 177.0,333.0 172.0,332.0 169.4,334.0"/>
<polygon fill="#338033" points="162.0,300.0 183.0,300.0 187.0,306.0 193.0,311.0 203.0,315.0 213.0,317.0 218.0,320.0 222.0,326.0 225.0,335.0 227.4,345.0 227.4,350.0 224.0,351.0 219.0,349.6 213.0,347.0 205.0,347.4 199.0,345.0 193.0,340.0 185.0,334.0 179.0,330.0 173.0,328.0 169.4,330.0 167.0,324.0 164.0,312.0"/>
<polygon fill="#5f9a20" points="183.0,300.0 185.0,300.0 188.6,305.2 194.0,309.6 203.4,313.6 213.0,315.6 218.0,318.0 218.0,320.0 213.0,317.0 203.0,315.0 193.0,311.0 187.0,306.0"/>
<path fill="#e6e6ff" d="M192.0 303.0H197.0V305.0H192.0ZM196.0 305.0H202.0V307.6H196.0ZM194.0 301.0H198.0V302.4H194.0ZM174.0 341.0H176.6V350.0H174.0ZM176.6 341.0H179.0V344.4H176.6ZM184.0 344.4H188.0V347.0H184.0ZM193.0 347.0H195.4V349.0H193.0Z"/>
<polygon fill="#e6e6ff" points="149.0,300.0 161.0,300.0 164.0,312.0 167.0,324.0 169.4,336.0 169.4,350.0 170.0,355.0 170.0,360.0 149.0,360.0 149.0,308.0 137.0,308.0"/>
<polygon fill="#e6e6ff" points="217.0,300.0 217.4,308.0 218.0,317.0 222.0,324.0 225.0,334.0 228.0,344.0 229.0,350.0 229.0,360.0 245.0,360.0 245.0,300.0"/>
<polygon fill="#e6e6ff" points="169.4,350.0 170.0,355.0 177.0,354.4 185.0,351.6 195.0,349.0 205.0,348.0 213.0,347.6 219.0,350.0 224.0,351.6 229.0,350.0 229.0,364.0 169.4,364.0"/>
<polygon fill="#5b9722" points="464.0,330.0 458.0,336.0 450.0,342.0 447.0,348.0 442.0,356.0 434.0,366.0 428.0,374.0 423.0,382.0 420.0,390.0 419.6,397.0 424.0,401.0 434.0,406.0 445.0,410.0 449.0,412.0 453.0,408.0 460.0,404.0 466.0,399.0 470.0,397.0 478.0,399.0 484.0,403.0 489.0,408.0 492.0,414.0 493.0,424.0 492.0,430.0 490.0,437.2 539.2,437.2 539.2,330.0"/>
<polygon fill="#74aa0e" points="504.0,352.0 518.0,350.0 539.2,354.0 539.2,397.0 530.0,389.0 522.0,381.0 510.0,375.0 502.0,368.4 504.0,362.0"/>
<polygon fill="#6aa318" points="470.0,364.0 478.0,367.0 484.0,370.0 490.0,373.6 496.0,371.0 502.0,368.0 510.0,375.0 522.0,381.0 530.0,389.0 539.2,397.0 539.2,406.0 530.0,399.0 518.0,390.0 504.0,386.0 490.0,380.0 476.0,376.0 471.0,370.0"/>
<polygon fill="#4c8d2a" points="476.0,377.0 490.0,381.0 504.0,387.0 518.0,391.0 529.6,399.0 527.6,408.0 518.0,411.6 504.0,409.6 494.0,413.6 490.0,406.0 482.0,400.0 474.0,396.0 471.0,388.0"/>
<polygon fill="#3f8530" points="494.0,394.0 506.0,396.0 518.0,400.0 524.0,405.0 518.0,409.0 506.0,407.0 498.0,405.0"/>
<polyline fill="none" stroke="#6aa318" stroke-width="1.6" points="482.0,388.0 498.0,390.0 514.0,394.0 526.0,400.0"/>
<polygon fill="#74aa0e" points="492.0,416.0 504.0,412.0 518.0,413.0 530.0,409.0 539.2,404.0 539.2,424.0 530.0,426.0 518.0,424.0 506.0,426.0 498.0,430.0 492.0,437.2 490.0,437.2 493.0,424.0"/>
<polygon fill="#44892d" points="496.0,437.2 502.0,430.0 510.0,427.0 522.0,426.0 534.0,428.0 539.2,425.6 539.2,437.2"/>
<polygon fill="#338033" points="500.0,437.2 505.0,431.6 512.0,429.0 522.0,428.0 534.0,430.0 539.2,428.0 539.2,437.2"/>
<polygon fill="#44892d" points="500.0,330.0 539.2,330.0 539.2,353.6 528.0,347.6 518.0,344.4 506.0,341.0 500.0,338.0"/>
<polygon fill="#338033" points="500.0,330.0 539.2,330.0 539.2,350.0 528.0,344.4 518.0,341.2 506.0,338.4 500.0,335.6"/>
<polyline fill="none" stroke="#6aa318" stroke-width="0.8" points="539.2,344.0 532.0,341.0 528.0,345.0 530.0,339.0"/>
<polygon fill="#338033" points="447.0,348.0 451.0,348.0 456.0,355.0 462.0,360.0 470.0,364.0 472.0,370.0 470.0,382.0 468.0,390.0 464.0,394.0 456.0,392.0 448.0,394.0 444.0,398.0 446.0,406.0 449.0,411.6 445.0,410.0 434.0,406.0 424.0,401.0 419.6,397.0 420.0,390.0 423.0,382.0 428.0,374.0 434.0,366.0 442.0,356.0"/>
<polygon fill="#5b9722" points="448.0,394.0 456.0,392.0 464.0,394.0 469.0,397.0 466.0,399.0 460.0,404.0 453.0,408.0 450.0,411.6 447.0,406.0 445.0,399.0"/>
<polygon fill="#7eb106" points="451.0,397.0 457.0,395.0 463.6,396.4 466.4,398.0 460.0,402.4 453.0,406.4 450.6,409.0 449.0,405.0 448.0,400.0"/>
<path fill="#e6e6ff" d="M464.0 397.0H466.0V399.0H464.0ZM453.0 405.0H454.0V407.0H453.0Z"/>
<polygon fill="#7eb106" points="447.0,348.0 450.0,342.0 458.0,336.0 464.0,330.0 469.0,330.0 464.0,335.6 458.0,341.6 451.4,348.0"/>
<polygon fill="#e6e6ff" points="451.0,347.0 458.0,341.0 464.0,335.0 468.0,330.0 498.0,330.0 498.0,338.0 501.0,350.0 504.0,352.0 504.0,362.0 502.0,368.0 496.0,371.0 490.0,373.6 484.0,370.0 478.0,367.0 470.0,364.0 462.0,360.0 456.0,355.0"/>
<polygon fill="#9999ff" points="465.0,330.0 485.0,330.0 485.6,338.0 483.0,344.0 478.0,347.0 470.0,345.0 465.6,340.0 464.0,335.0"/>
<polygon fill="#4d4dff" points="469.0,330.0 479.0,330.0 479.0,336.0 475.0,339.6 471.0,338.0"/>
<polygon fill="#0000ff" points="469.6,330.0 476.4,330.0 476.4,334.4 469.6,334.4"/>
<rect fill="#5f9a20" x="538.0" y="348.0" width="19.0" height="59.2"/>
<polygon fill="#5f9a20" points="480.0,300.0 510.0,300.0 500.0,306.0 496.0,312.0 508.0,324.0 520.0,338.0 532.0,348.0 544.0,355.0 557.0,360.0 557.0,407.2 539.2,407.2 539.2,360.0 520.0,350.0 500.0,340.0 499.0,340.0 494.0,336.0 488.0,328.0 484.0,320.0 480.0,312.0"/>
<polygon fill="#6aa318" points="500.0,340.0 520.0,346.0 540.0,354.0 557.0,362.0 557.0,407.2 539.2,407.2 539.2,364.0 504.0,354.0 500.0,352.0"/>
<polygon fill="#7cb00a" points="504.0,352.4 520.0,352.4 540.0,358.0 557.0,366.0 557.0,380.0 540.0,370.0 520.0,362.0 504.0,360.0"/>
<polygon fill="#6aa318" points="504.0,360.0 520.0,362.0 540.0,370.0 557.0,380.0 557.0,394.0 540.0,384.0 520.0,374.0 504.0,366.0"/>
<polygon fill="#5b9722" points="539.2,384.0 557.0,394.0 557.0,407.2 539.2,407.2"/>
<polyline fill="none" stroke="#8aba08" stroke-width="0.6" points="504.0,354.0 516.0,355.0 526.0,354.0 534.0,357.0 540.0,360.0 548.0,366.0 557.0,369.4"/>
<polyline fill="none" stroke="#8aba08" stroke-width="0.6" points="526.0,354.0 528.0,346.0 529.0,339.0"/>
<polyline fill="none" stroke="#8aba08" stroke-width="0.6" points="540.0,353.6 541.0,347.0"/>
<polyline fill="none" stroke="#6aa318" stroke-width="0.8" points="484.0,316.0 492.0,326.0 500.0,333.0 506.0,338.0"/>
<polygon fill="#338033" points="496.0,311.0 508.0,323.0 520.0,337.0 532.0,347.0 544.0,353.6 557.0,358.4 557.0,300.0 510.0,300.0 500.0,305.6"/>
<polygon fill="#e6e6ff" points="480.0,312.0 484.0,320.0 488.0,328.0 494.0,336.0 499.0,340.0 500.0,352.0 504.0,354.0 504.0,366.0 500.0,369.0 494.0,373.0 489.0,373.6 484.0,370.0 480.0,369.0"/>
<polygon fill="#9999ff" points="480.0,331.0 483.0,332.0 484.4,338.0 483.0,345.0 480.0,346.4"/>
<defs><clipPath id="c1"><rect x="430.0" y="437.0" width="129.2" height="51.0"/><rect x="539.0" y="407.0" width="20.2" height="30.0"/></clipPath></defs><g clip-path="url(#c1)">
<rect fill="#e6e6ff" x="430.0" y="400.0" width="129.2" height="88.0"/>
<polygon fill="#5b9722" points="478.0,400.0 488.0,406.0 492.4,414.0 493.6,424.0 492.0,434.0 488.0,440.0 482.0,445.0 474.0,447.0 468.0,453.0 460.0,461.0 456.0,465.0 446.0,465.6 450.0,472.0 454.0,477.0 462.0,484.0 465.0,487.2 558.0,487.2 558.0,400.0"/>
<polygon fill="#74aa0e" points="492.4,414.0 502.0,416.0 514.0,414.0 526.0,410.0 538.0,406.0 558.0,410.0 558.0,437.0 542.0,433.0 530.0,429.0 518.0,427.0 506.0,428.0 498.0,432.0 494.0,434.0 493.6,424.0"/>
<polygon fill="#80b30a" points="494.0,416.0 510.0,417.0 518.0,420.0 510.0,425.0 498.0,428.0 493.6,424.0"/>
<polygon fill="#6aa318" points="526.0,410.0 558.0,410.0 558.0,436.0 542.0,432.0 530.0,428.0 524.0,422.0"/>
<polygon fill="#6aa318" points="492.0,434.0 498.0,432.0 498.0,439.0 500.0,446.0 504.0,454.0 505.0,462.0 498.0,470.0 490.0,476.0 484.0,475.0 476.0,471.0 466.0,467.0 456.0,465.6 460.0,461.0 468.0,453.0 474.0,447.0 482.0,445.0 488.0,440.0"/>
<polygon fill="#7cb00a" points="490.0,437.0 494.0,440.0 490.0,446.0 484.0,450.0 476.0,452.0 470.0,458.0 463.0,463.6 458.0,465.0 460.0,461.0 468.0,453.0 474.0,447.0 482.0,445.0 488.0,440.0"/>
<polyline fill="none" stroke="#8aba08" stroke-width="0.6" points="470.0,455.0 478.0,460.0 484.0,460.0 490.0,466.0 490.0,474.0"/>
<polyline fill="none" stroke="#8aba08" stroke-width="0.6" points="490.0,460.0 494.0,454.0 500.0,455.0 505.0,460.0"/>
<polygon fill="#44892d" points="497.0,433.0 506.0,426.4 518.0,425.4 530.0,427.4 542.0,431.4 558.0,435.4 558.0,487.2 465.0,487.2 462.0,484.0 454.0,477.0 450.0,472.0 446.0,465.6 456.0,464.4 466.0,465.6 476.0,469.6 484.0,473.6 489.6,474.4 497.0,469.0 503.6,461.6 502.6,454.0 498.6,446.0 496.6,439.0"/>
<polygon fill="#338033" points="499.0,433.6 506.4,428.4 518.0,427.4 530.0,429.4 542.0,433.4 558.0,437.4 558.0,487.2 465.0,487.2 462.0,484.0 454.0,477.0 450.0,472.0 446.0,465.6 456.0,465.6 466.0,467.0 476.0,471.0 484.0,475.0 490.0,476.0 498.0,470.4 505.4,462.4 504.4,454.0 500.4,446.0 498.4,439.0"/>
</g>
<path fill="#e6e6ff" d="M106.0 92.0h2.5v2.5h-2.5zM115.6 92.0h2.3v0.7h-2.3zM118.8 92.0h1.0v1.0h-1.0zM115.6 93.6h3.8v1.1h-3.8zM117.2 95.2h2.1v1.3h-2.1zM118.8 95.2h0.8v1.9h-0.8zM106.0 96.8h2.1v0.9h-2.1zM107.6 96.8h1.5v2.0h-1.5zM109.2 96.8h1.0v1.9h-1.0zM106.0 100.0h2.3v0.9h-2.3zM112.4 100.0h4.4v2.0h-4.4zM114.0 100.0h3.3v0.6h-3.3zM115.6 100.0h0.9v2.0h-0.9zM117.2 100.0h3.0v2.2h-3.0zM106.0 101.6h3.9v4.2h-3.9zM107.6 101.6h3.2v1.8h-3.2zM110.8 101.6h0.7v2.5h-0.7zM114.0 101.6h2.3v1.4h-2.3zM112.4 103.2h1.3v1.4h-1.3zM114.0 103.2h3.7v1.5h-3.7zM106.0 104.8h4.5v1.2h-4.5zM118.8 104.8h1.9v1.2h-1.9zM114.0 106.4h2.1v2.8h-2.1zM118.8 106.4h2.0v2.4h-2.0zM107.6 109.6h1.0v5.0h-1.0zM109.2 109.6h5.0v3.8h-5.0zM115.6 109.6h2.4v2.6h-2.4zM110.8 111.2h1.7v2.4h-1.7z"/>
<path fill="#e6e6ff" d="M121.0 93.0h3.3v3.4h-3.3zM122.6 93.0h3.7v0.8h-3.7zM127.4 93.0h6.9v2.2h-6.9zM129.0 93.0h6.2v1.9h-6.2zM137.0 93.0h2.3v0.8h-2.3zM130.6 94.6h2.9v0.9h-2.9zM132.2 94.6h2.2v1.8h-2.2zM133.8 94.6h1.7v2.4h-1.7zM138.6 94.6h1.8v0.9h-1.8zM121.0 96.2h2.5v2.2h-2.5zM122.6 96.2h1.5v1.1h-1.5zM124.2 96.2h4.3v2.5h-4.3zM129.0 96.2h2.1v0.7h-2.1zM132.2 96.2h1.3v1.3h-1.3zM140.2 96.2h2.0v0.8h-2.0zM141.8 96.2h1.5v2.3h-1.5zM121.0 97.8h2.6v1.7h-2.6zM127.4 97.8h4.6v3.7h-4.6zM129.0 97.8h1.4v2.9h-1.4zM137.0 97.8h2.5v0.9h-2.5zM140.2 97.8h0.7v2.1h-0.7zM122.6 99.4h6.4v1.3h-6.4zM125.8 99.4h6.6v4.4h-6.6zM127.4 99.4h2.2v2.3h-2.2zM130.6 99.4h2.3v2.1h-2.3zM133.8 99.4h1.6v1.6h-1.6zM135.4 99.4h1.4v1.4h-1.4zM137.0 99.4h2.5v2.9h-2.5zM138.6 99.4h4.3v3.5h-4.3zM121.0 101.0h2.0v1.1h-2.0zM122.6 101.0h2.2v1.1h-2.2zM125.8 101.0h3.4v3.1h-3.4zM129.0 101.0h0.8v1.8h-0.8zM130.6 101.0h2.1v1.5h-2.1zM138.6 101.0h1.6v2.0h-1.6zM140.2 101.0h1.7v2.3h-1.7zM122.6 102.6h5.0v1.4h-5.0zM125.8 102.6h4.8v2.0h-4.8zM140.2 102.6h2.1v1.7h-2.1zM127.4 104.2h0.8v1.1h-0.8zM130.6 104.2h0.7v2.4h-0.7zM137.0 104.2h2.6v1.4h-2.6zM140.2 104.2h1.6v0.9h-1.6zM127.4 105.8h0.9v1.6h-0.9zM129.0 105.8h1.9v4.1h-1.9zM130.6 105.8h0.9v4.9h-0.9zM133.8 105.8h1.2v2.0h-1.2zM138.6 105.8h1.1v4.2h-1.1zM140.2 105.8h3.0v2.2h-3.0zM122.6 107.4h4.2v2.5h-4.2zM130.6 107.4h2.5v2.4h-2.5zM132.2 107.4h2.4v1.9h-2.4zM133.8 107.4h0.8v4.2h-0.8zM135.4 107.4h3.1v4.3h-3.1zM138.6 107.4h0.9v1.5h-0.9zM140.2 107.4h4.0v1.1h-4.0zM125.8 109.0h2.1v3.1h-2.1zM127.4 109.0h1.6v2.0h-1.6zM132.2 109.0h2.1v1.4h-2.1zM135.4 109.0h1.8v1.1h-1.8zM138.6 109.0h2.0v1.0h-2.0zM121.0 110.6h4.0v1.1h-4.0zM122.6 110.6h4.8v4.7h-4.8zM124.2 110.6h1.0v1.3h-1.0zM129.0 110.6h1.6v1.7h-1.6zM132.2 110.6h0.8v1.8h-0.8zM133.8 110.6h2.9v0.7h-2.9zM140.2 110.6h4.9v0.8h-4.9zM129.0 112.2h2.5v1.4h-2.5zM133.8 112.2h1.5v1.8h-1.5zM135.4 112.2h2.6v0.6h-2.6zM137.0 112.2h1.7v0.9h-1.7zM140.2 112.2h0.9v2.5h-0.9zM121.0 113.8h1.7v1.0h-1.7zM122.6 113.8h2.2v0.9h-2.2zM124.2 113.8h4.9v1.1h-4.9zM125.8 113.8h4.4v1.9h-4.4zM130.6 113.8h1.4v0.9h-1.4zM133.8 113.8h2.4v2.0h-2.4zM135.4 113.8h1.1v4.5h-1.1zM137.0 113.8h1.5v1.1h-1.5zM121.0 115.4h2.6v2.4h-2.6zM122.6 115.4h7.1v0.7h-7.1zM125.8 115.4h1.2v1.5h-1.2zM130.6 115.4h2.2v1.2h-2.2zM135.4 115.4h1.2v0.7h-1.2zM138.6 115.4h0.7v1.8h-0.7zM125.8 117.0h1.6v4.1h-1.6zM127.4 117.0h2.1v2.6h-2.1zM130.6 117.0h1.4v2.1h-1.4zM137.0 117.0h2.5v1.6h-2.5zM140.2 117.0h3.4v1.4h-3.4zM122.6 118.6h7.3v1.8h-7.3zM129.0 118.6h2.5v1.9h-2.5zM132.2 118.6h0.7v1.1h-0.7zM133.8 118.6h3.6v1.7h-3.6zM138.6 118.6h0.9v1.9h-0.9zM141.8 118.6h7.6v1.5h-7.6zM143.4 118.6h1.0v1.6h-1.0zM122.6 120.2h0.7v1.4h-0.7zM129.0 120.2h2.5v1.2h-2.5zM133.8 120.2h2.6v5.0h-2.6zM141.8 120.2h1.4v2.1h-1.4z"/>
<path fill="#e6e6ff" d="M164.8 104.0h6.8v1.6h-6.8zM166.4 104.0h1.5v0.9h-1.5zM155.2 105.6h1.0v1.5h-1.0zM156.8 105.6h2.1v2.5h-2.1zM158.4 105.6h7.5v2.1h-7.5zM163.2 105.6h1.3v0.7h-1.3zM164.8 105.6h2.1v2.7h-2.1zM166.4 105.6h2.5v1.5h-2.5zM145.6 107.2h3.4v2.6h-3.4zM148.8 107.2h1.6v1.1h-1.6zM152.0 107.2h2.2v1.6h-2.2zM153.6 107.2h1.1v1.0h-1.1zM155.2 107.2h1.3v4.7h-1.3zM158.4 107.2h4.0v0.7h-4.0zM163.2 107.2h2.4v1.2h-2.4zM147.2 108.8h1.5v1.4h-1.5zM153.6 108.8h3.1v3.9h-3.1zM155.2 108.8h7.2v1.5h-7.2zM163.2 108.8h1.4v4.3h-1.4zM164.8 108.8h6.8v1.4h-6.8zM145.6 110.4h1.5v2.2h-1.5zM148.8 110.4h1.1v2.5h-1.1zM150.4 110.4h5.7v1.7h-5.7zM152.0 110.4h1.7v1.6h-1.7zM160.0 110.4h1.5v1.8h-1.5zM164.8 110.4h1.2v2.4h-1.2zM145.6 112.0h2.1v0.8h-2.1zM164.8 112.0h3.4v2.2h-3.4zM144.0 113.6h1.2v1.6h-1.2zM145.6 113.6h2.4v2.1h-2.4zM147.2 113.6h3.6v2.5h-3.6zM150.4 113.6h1.0v2.5h-1.0zM153.6 113.6h3.7v1.0h-3.7zM160.0 113.6h1.6v1.5h-1.6zM161.6 113.6h1.7v2.4h-1.7zM163.2 113.6h0.8v2.5h-0.8zM164.8 113.6h7.5v0.9h-7.5zM147.2 115.2h6.7v1.8h-6.7zM160.0 115.2h2.5v2.6h-2.5zM163.2 115.2h2.1v1.9h-2.1zM166.4 115.2h2.2v1.6h-2.2zM144.0 116.8h0.7v1.6h-0.7zM150.4 116.8h2.1v2.3h-2.1zM152.0 116.8h2.0v3.0h-2.0zM153.6 116.8h4.7v4.9h-4.7zM155.2 116.8h3.8v1.8h-3.8zM156.8 116.8h0.7v1.1h-0.7zM158.4 116.8h0.8v2.5h-0.8zM160.0 116.8h4.9v1.1h-4.9zM164.8 116.8h2.5v2.2h-2.5zM144.0 118.4h2.1v1.0h-2.1zM147.2 118.4h2.3v2.5h-2.3zM153.6 118.4h1.7v2.0h-1.7zM156.8 118.4h2.2v2.1h-2.2zM160.0 118.4h1.0v1.8h-1.0zM161.6 118.4h7.4v1.0h-7.4zM163.2 118.4h0.7v1.7h-0.7zM145.6 120.0h2.4v2.0h-2.4zM147.2 120.0h1.8v0.7h-1.8zM150.4 120.0h3.6v2.0h-3.6zM152.0 120.0h2.2v0.9h-2.2zM163.2 120.0h0.8v1.8h-0.8zM145.6 121.6h2.4v2.3h-2.4zM147.2 121.6h1.7v2.1h-1.7zM148.8 121.6h7.2v0.7h-7.2zM150.4 121.6h1.6v1.5h-1.6zM155.2 121.6h2.4v2.6h-2.4zM156.8 121.6h4.9v1.6h-4.9zM160.0 121.6h3.4v2.0h-3.4zM163.2 121.6h4.9v1.9h-4.9zM166.4 121.6h1.3v0.7h-1.3zM152.0 123.2h2.5v1.0h-2.5z"/>
<path fill="#e6e6ff" d="M180.8 96.0h3.8v2.4h-3.8zM182.4 96.0h1.4v1.7h-1.4zM185.6 96.0h2.8v4.3h-2.8zM177.6 97.6h1.7v3.9h-1.7zM179.2 97.6h1.2v1.3h-1.2zM182.4 97.6h0.6v1.9h-0.6zM184.0 97.6h4.4v3.1h-4.4zM176.0 99.2h1.8v0.7h-1.8zM182.4 99.2h4.3v1.3h-4.3zM187.2 99.2h0.8v2.0h-0.8zM182.4 100.8h6.5v1.3h-6.5zM184.0 100.8h3.7v2.2h-3.7zM185.6 100.8h1.9v2.3h-1.9zM179.2 102.4h1.6v1.3h-1.6zM180.8 102.4h2.3v2.2h-2.3zM187.2 102.4h5.7v1.8h-5.7zM176.0 104.0h1.6v1.9h-1.6zM177.6 104.0h2.1v4.5h-2.1zM184.0 104.0h6.1v4.1h-6.1zM187.2 104.0h3.5v5.1h-3.5zM180.8 105.6h5.1v1.4h-5.1zM184.0 105.6h1.3v1.4h-1.3zM187.2 105.6h5.1v1.2h-5.1zM177.6 107.2h3.3v3.1h-3.3zM180.8 107.2h1.3v2.4h-1.3zM182.4 107.2h5.2v3.6h-5.2zM176.0 108.8h0.7v2.5h-0.7zM184.0 108.8h1.1v1.2h-1.1zM188.8 108.8h0.7v0.9h-0.7zM176.0 110.4h6.1v0.7h-6.1zM185.6 110.4h1.4v4.6h-1.4zM176.0 112.0h4.3v4.8h-4.3zM180.8 112.0h1.2v0.8h-1.2zM187.2 112.0h4.0v0.9h-4.0zM177.6 113.6h5.7v2.1h-5.7zM179.2 113.6h4.1v2.3h-4.1zM182.4 113.6h2.4v1.4h-2.4zM184.0 113.6h5.2v1.9h-5.2zM185.6 113.6h1.1v1.7h-1.1zM176.0 115.2h1.3v3.5h-1.3zM179.2 115.2h2.5v2.2h-2.5zM182.4 115.2h4.3v2.1h-4.3zM184.0 115.2h0.9v1.8h-0.9zM185.6 115.2h2.6v3.6h-2.6zM177.6 116.8h2.1v1.4h-2.1zM180.8 116.8h3.1v2.1h-3.1zM184.0 116.8h1.5v0.8h-1.5zM187.2 116.8h0.9v1.1h-0.9zM176.0 118.4h1.3v2.1h-1.3zM179.2 118.4h0.9v1.9h-0.9zM184.0 118.4h2.0v1.9h-2.0zM187.2 118.4h2.1v2.0h-2.1zM176.0 120.0h1.5v1.9h-1.5zM177.6 120.0h4.9v2.0h-4.9zM179.2 120.0h2.4v1.5h-2.4zM180.8 120.0h2.8v1.5h-2.8zM182.4 120.0h1.2v0.7h-1.2zM184.0 120.0h2.0v1.9h-2.0zM185.6 120.0h2.4v2.2h-2.4zM187.2 120.0h6.9v1.1h-6.9zM179.2 121.6h1.1v0.9h-1.1zM180.8 121.6h2.2v2.5h-2.2zM184.0 121.6h1.7v1.1h-1.7zM176.0 123.2h1.2v4.9h-1.2zM182.4 123.2h2.5v1.2h-2.5zM185.6 123.2h1.7v0.7h-1.7zM188.8 123.2h0.7v1.7h-0.7zM177.6 124.8h2.9v2.5h-2.9zM180.8 124.8h2.9v1.5h-2.9zM185.6 124.8h5.0v1.8h-5.0zM182.4 126.4h0.8v1.6h-0.8zM184.0 126.4h1.6v0.7h-1.6zM177.6 128.0h1.0v1.4h-1.0zM187.2 128.0h1.0v2.4h-1.0zM184.0 129.6h3.4v2.8h-3.4zM177.6 131.2h3.1v1.2h-3.1zM180.8 131.2h6.3v2.1h-6.3zM184.0 131.2h7.1v1.2h-7.1zM185.6 131.2h3.0v0.7h-3.0zM187.2 131.2h1.5v1.3h-1.5z"/>
<path fill="#e6e6ff" d="M144.8 116.0h4.3v1.6h-4.3zM146.4 116.0h1.0v1.9h-1.0zM141.6 117.6h1.2v2.4h-1.2zM143.2 117.6h1.2v1.5h-1.2zM141.6 119.2h1.7v1.9h-1.7zM144.8 119.2h7.5v2.3h-7.5zM146.4 119.2h1.8v1.9h-1.8zM144.8 120.8h0.9v1.3h-0.9zM146.4 120.8h5.0v2.1h-5.0zM148.0 120.8h1.8v2.0h-1.8zM111.2 122.4h3.3v2.2h-3.3zM117.6 122.4h2.5v2.3h-2.5zM119.2 122.4h3.6v2.0h-3.6zM127.2 122.4h1.0v1.2h-1.0zM130.4 122.4h0.8v2.3h-0.8zM132.0 122.4h2.0v2.4h-2.0zM135.2 122.4h1.5v2.4h-1.5zM136.8 122.4h3.2v2.5h-3.2zM138.4 122.4h3.3v1.9h-3.3zM140.0 122.4h0.8v2.1h-0.8zM144.8 122.4h0.8v1.5h-0.8zM146.4 122.4h1.3v2.3h-1.3zM100.0 124.0h2.0v2.4h-2.0zM101.6 124.0h2.1v1.7h-2.1zM104.8 124.0h0.8v2.2h-0.8zM106.4 124.0h1.4v1.6h-1.4zM112.8 124.0h1.5v2.5h-1.5zM114.4 124.0h3.2v2.2h-3.2zM116.0 124.0h4.6v2.1h-4.6zM117.6 124.0h1.7v2.1h-1.7zM122.4 124.0h1.9v2.6h-1.9zM125.6 124.0h0.7v3.7h-0.7zM130.4 124.0h4.4v0.8h-4.4zM132.0 124.0h4.6v0.8h-4.6zM135.2 124.0h1.6v2.6h-1.6zM138.4 124.0h2.1v2.2h-2.1zM148.0 124.0h0.7v1.5h-0.7zM100.0 125.6h1.0v2.6h-1.0zM101.6 125.6h4.6v1.2h-4.6zM106.4 125.6h4.7v0.7h-4.7zM108.0 125.6h1.9v1.9h-1.9zM116.0 125.6h7.5v1.1h-7.5zM117.6 125.6h1.9v0.7h-1.9zM124.0 125.6h5.0v1.0h-5.0zM125.6 125.6h3.7v2.3h-3.7zM127.2 125.6h5.0v1.1h-5.0zM128.8 125.6h2.1v3.8h-2.1zM133.6 125.6h1.1v1.0h-1.1zM135.2 125.6h2.8v1.1h-2.8zM136.8 125.6h7.5v1.7h-7.5zM138.4 125.6h1.6v0.9h-1.6zM141.6 125.6h2.7v1.9h-2.7zM144.8 125.6h1.1v3.7h-1.1zM146.4 125.6h2.5v0.7h-2.5zM148.0 125.6h7.2v1.7h-7.2zM100.0 127.2h1.8v1.6h-1.8zM101.6 127.2h1.0v1.3h-1.0zM106.4 127.2h1.3v3.0h-1.3zM108.0 127.2h4.8v3.5h-4.8zM112.8 127.2h7.0v3.8h-7.0zM120.8 127.2h4.5v0.7h-4.5zM122.4 127.2h1.0v0.9h-1.0zM124.0 127.2h7.2v1.5h-7.2zM125.6 127.2h1.3v4.0h-1.3zM127.2 127.2h4.6v2.0h-4.6zM132.0 127.2h3.6v2.3h-3.6zM133.6 127.2h3.0v1.3h-3.0zM138.4 127.2h0.7v2.0h-0.7zM140.0 127.2h0.7v0.7h-0.7zM141.6 127.2h1.0v2.2h-1.0zM146.4 127.2h4.1v1.7h-4.1zM148.0 127.2h2.5v3.6h-2.5zM104.8 128.8h1.2v0.6h-1.2zM106.4 128.8h5.2v2.1h-5.2zM109.6 128.8h2.1v1.7h-2.1zM111.2 128.8h1.8v0.9h-1.8zM112.8 128.8h1.4v1.1h-1.4zM114.4 128.8h3.9v2.2h-3.9zM116.0 128.8h0.9v1.2h-0.9zM124.0 128.8h1.3v1.6h-1.3zM125.6 128.8h0.7v4.1h-0.7zM127.2 128.8h1.3v1.3h-1.3zM128.8 128.8h1.2v2.1h-1.2zM132.0 128.8h2.2v1.9h-2.2zM136.8 128.8h4.0v3.1h-4.0zM140.0 128.8h0.7v0.7h-0.7zM101.6 130.4h2.0v2.4h-2.0zM103.2 130.4h6.8v1.1h-6.8zM104.8 130.4h2.3v1.7h-2.3zM109.6 130.4h2.4v0.7h-2.4zM111.2 130.4h7.3v2.4h-7.3zM112.8 130.4h2.4v1.3h-2.4zM114.4 130.4h1.2v2.0h-1.2zM116.0 130.4h7.0v0.9h-7.0zM117.6 130.4h1.0v2.4h-1.0zM119.2 130.4h1.4v1.2h-1.4zM120.8 130.4h3.8v1.8h-3.8zM122.4 130.4h5.1v2.2h-5.1zM124.0 130.4h1.5v1.3h-1.5zM128.8 130.4h5.7v2.7h-5.7zM130.4 130.4h0.9v2.3h-0.9zM133.6 130.4h1.0v4.5h-1.0zM136.8 130.4h1.1v1.1h-1.1zM138.4 130.4h4.8v2.1h-4.8zM140.0 130.4h5.5v1.1h-5.5zM141.6 130.4h1.7v3.1h-1.7zM144.8 130.4h1.7v2.6h-1.7zM148.0 130.4h7.5v1.6h-7.5zM100.0 132.0h1.3v1.4h-1.3zM101.6 132.0h1.6v1.7h-1.6zM111.2 132.0h7.4v2.2h-7.4zM112.8 132.0h0.7v1.2h-0.7zM116.0 132.0h5.0v1.5h-5.0zM120.8 132.0h0.7v3.4h-0.7zM128.8 132.0h2.3v1.6h-2.3zM130.4 132.0h7.4v1.1h-7.4zM136.8 132.0h1.4v2.0h-1.4zM143.2 132.0h1.6v1.5h-1.6zM144.8 132.0h1.8v2.4h-1.8zM148.0 132.0h1.6v1.7h-1.6zM103.2 133.6h0.9v0.8h-0.9zM106.4 133.6h5.6v4.7h-5.6zM108.0 133.6h2.1v0.9h-2.1zM112.8 133.6h2.2v2.1h-2.2zM114.4 133.6h1.3v2.3h-1.3zM116.0 133.6h1.9v2.6h-1.9zM119.2 133.6h0.7v2.3h-0.7zM120.8 133.6h1.7v1.5h-1.7zM122.4 133.6h1.9v1.9h-1.9zM127.2 133.6h1.5v0.7h-1.5zM138.4 133.6h1.5v1.1h-1.5zM140.0 133.6h5.2v1.5h-5.2zM141.6 133.6h2.5v2.5h-2.5zM144.8 133.6h6.0v1.9h-6.0zM148.0 133.6h3.0v1.0h-3.0z"/>
<rect fill="#e6e6ff" x="168.4" y="98.0" width="3.6" height="18.0"/>
<path fill="#e6e6ff" d="M153.2 122.0h1.5v3.2h-1.5zM159.6 122.0h1.4v2.5h-1.4zM151.6 123.6h1.8v1.6h-1.8zM159.6 123.6h2.0v1.4h-2.0zM161.2 123.6h2.8v1.9h-2.8zM170.8 123.6h2.8v1.4h-2.8zM174.0 123.6h2.6v1.8h-2.6zM150.0 125.2h1.2v1.9h-1.2zM151.6 125.2h7.2v1.3h-7.2zM154.8 125.2h4.2v1.0h-4.2zM162.8 125.2h5.0v0.8h-5.0zM150.0 126.8h1.7v4.5h-1.7zM153.2 126.8h2.2v2.3h-2.2zM156.4 126.8h6.4v0.9h-6.4zM159.6 126.8h5.1v2.1h-5.1zM172.4 126.8h2.5v4.5h-2.5zM174.0 126.8h1.5v0.8h-1.5zM150.0 128.4h1.8v1.6h-1.8zM161.2 128.4h1.2v0.7h-1.2zM169.2 128.4h2.5v1.1h-2.5zM174.0 128.4h7.6v0.7h-7.6zM180.4 128.4h1.2v1.1h-1.2zM182.0 128.4h1.4v1.3h-1.4zM156.4 130.0h4.7v1.6h-4.7zM158.0 130.0h2.4v2.2h-2.4zM172.4 130.0h5.2v2.2h-5.2zM185.2 130.0h2.2v4.2h-2.2zM154.8 131.6h5.0v0.8h-5.0zM164.4 131.6h2.4v2.4h-2.4zM170.8 131.6h4.6v2.8h-4.6zM177.2 131.6h2.4v1.0h-2.4zM182.0 131.6h1.2v0.7h-1.2zM159.6 133.2h1.7v1.4h-1.7zM164.4 133.2h1.5v0.9h-1.5zM166.0 133.2h1.3v0.8h-1.3zM174.0 133.2h1.8v2.3h-1.8zM185.2 133.2h2.1v2.1h-2.1zM186.8 133.2h0.8v2.1h-0.8z"/>
<path fill="#e6e6ff" d="M79.0 114.0H82.0V122.0H79.0ZM72.0 109.0H73.2V112.0H72.0ZM82.0 131.0H87.0V134.0H82.0ZM103.0 116.0H107.0V118.4H103.0ZM90.0 116.0H91.6V118.0H90.0Z"/>
<defs><clipPath id="c2"><rect x="125.0" y="190.0" width="129.0" height="87.0"/></clipPath></defs><g clip-path="url(#c2)">
<rect fill="#e6e6ff" x="125.0" y="170.0" width="129.2" height="107.2"/>
<polygon fill="#7eb106" points="125.0,189.0 254.2,189.0 254.2,220.0 249.0,227.0 241.0,227.0 237.0,232.0 229.0,236.0 221.0,242.0 213.0,249.0 205.0,255.0 202.0,262.0 199.0,270.0 198.0,278.0 153.0,278.0 155.0,270.0 153.0,264.0 145.0,254.0 143.0,246.0 137.0,238.0 133.0,242.0 125.0,249.6"/>
<polygon fill="#e6e6ff" points="179.0,192.0 183.0,191.0 185.0,196.0 194.0,198.0 194.0,216.0 185.0,218.0 179.0,217.0 178.0,206.0"/>
<polygon fill="#e6e6ff" points="197.0,199.0 205.0,199.0 205.0,207.0 209.0,207.0 209.0,202.0 214.0,198.0 215.0,212.0 205.0,215.0 198.0,218.0"/>
<rect fill="#e6e6ff" x="217.0" y="208.0" width="8.0" height="4.0"/>
<polygon fill="#e6e6ff" points="160.0,190.0 171.0,194.0 174.0,204.0 174.0,216.0 165.0,222.0 163.0,215.0 163.0,202.0 160.0,200.0"/>
<polygon fill="#e6e6ff" points="140.0,196.0 151.0,195.0 155.0,202.0 155.0,213.0 149.0,222.0 149.0,225.0 141.0,222.0 139.0,210.0"/>
<polygon fill="#e6e6ff" points="129.0,196.0 137.0,194.0 139.0,202.0 131.0,210.0 127.0,215.0 125.0,218.0 125.0,210.0 128.0,206.0"/>
<polygon fill="#e6e6ff" points="125.0,218.0 139.0,218.0 145.0,228.0 139.0,234.0 131.0,240.0 125.0,238.0"/>
<polygon fill="#e6e6ff" points="151.0,224.0 163.0,223.0 167.0,228.0 155.0,230.0 149.0,230.0"/>
<polygon fill="#e6e6ff" points="165.0,239.0 170.0,239.0 174.0,246.0 175.0,252.0 165.0,253.0"/>
<polygon fill="#e6e6ff" points="178.0,220.0 187.0,220.0 189.0,226.0 179.0,227.0"/>
<polygon fill="#e6e6ff" points="175.0,232.0 183.0,232.0 183.0,236.0 180.0,239.0 175.0,236.0"/>
<polygon fill="#e6e6ff" points="175.0,260.0 183.0,258.0 181.0,262.0 176.0,263.0"/>
<path fill="#e6e6ff" d="M155.0 240.0H162.0V242.4H155.0ZM235.0 215.0H239.0V217.6H235.0ZM233.0 221.0H235.4V222.4H233.0ZM150.0 240.0H151.4V241.6H150.0Z"/>
<polygon fill="#e6e6ff" points="245.0,189.0 254.2,188.4 254.2,194.4 249.0,194.4 244.6,190.0"/>
<path fill="#7eb106" d="M158.0 202.0H160.0V213.0H158.0ZM155.0 212.0H158.0V219.0H155.0ZM161.0 213.0H163.0V218.0H161.0ZM129.0 218.0H131.0V222.4H129.0ZM151.0 198.0H153.0V202.0H151.0ZM177.0 203.0H178.6V210.0H177.0Z"/>
<polygon fill="#78ac0c" points="155.0,254.0 175.0,254.0 185.0,264.0 187.0,278.0 153.0,278.0 155.0,270.0"/>
<polyline fill="none" stroke="#6ca514" stroke-width="1.6" points="165.0,258.0 171.0,264.0 168.0,270.0"/>
<polygon fill="#5f9a20" points="153.0,278.0 153.4,275.0 162.0,274.0 170.0,272.0 175.0,268.4 179.0,264.8 185.0,267.2 187.4,278.0"/>
<polygon fill="#338033" points="154.0,278.0 154.2,277.0 162.0,276.0 170.0,274.0 176.0,270.0 179.0,267.0 184.0,269.0 186.0,278.0"/>
<path fill="#74aa0e" d="M194.0 228.0H197.0V234.0H194.0ZM204.0 228.0H206.0V232.0H204.0Z"/>
</g>
<defs><clipPath id="c3"><rect x="120.0" y="194.0" width="80.0" height="58.0"/></clipPath></defs><g clip-path="url(#c3)">
<rect fill="#7eb106" x="120.0" y="185.0" width="80.0" height="67.0"/>
<polygon fill="#e6e6ff" points="133.8,195.0 140.0,194.4 140.0,198.8 142.5,198.8 142.5,207.5 138.8,208.8 138.8,212.5 133.8,212.5 131.2,210.0 130.6,206.2 133.8,203.8"/>
<polygon fill="#e6e6ff" points="143.1,200.0 148.8,195.0 153.8,196.9 153.8,200.0 157.5,200.0 157.5,210.0 153.8,211.2 153.8,216.2 157.5,221.2 150.0,223.8 150.0,221.2 142.5,220.0 140.6,213.8 143.1,207.5"/>
<polygon fill="#e6e6ff" points="160.0,191.2 163.8,190.0 167.5,195.0 172.5,201.2 173.8,210.0 172.5,217.5 167.5,220.0 163.8,221.2 158.8,221.2 163.1,217.5 163.1,213.8 160.0,213.8 160.0,200.0 158.1,197.5"/>
<polygon fill="#e6e6ff" points="178.8,196.2 181.9,191.2 182.5,196.2 187.5,197.5 188.1,201.2 193.8,198.8 194.4,216.2 190.0,216.9 187.5,221.2 180.0,216.2 178.1,215.0 178.8,203.8"/>
<polygon fill="#e6e6ff" points="120.0,213.8 125.0,213.1 127.5,216.2 132.5,216.2 137.5,218.8 141.2,223.8 142.5,231.2 137.5,233.8 132.5,240.0 127.5,237.5 120.0,232.5"/>
<polygon fill="#e6e6ff" points="146.9,226.2 151.2,226.9 150.0,230.0 146.9,230.6"/>
<polygon fill="#e6e6ff" points="163.8,222.5 170.0,221.2 170.0,227.5 173.8,226.9 171.2,228.8 166.2,232.5 163.1,231.9 164.4,227.5"/>
<polygon fill="#e6e6ff" points="178.8,221.2 185.0,220.0 190.0,222.5 190.0,226.2 185.0,227.5 178.8,225.6"/>
<polygon fill="#e6e6ff" points="153.8,231.9 161.2,232.5 161.2,237.5 158.8,237.5 158.8,234.4 153.8,233.8"/>
<polygon fill="#e6e6ff" points="175.0,233.1 182.5,231.9 182.5,235.0 180.0,235.0 180.0,239.4 178.1,239.4 178.1,235.6 175.0,235.0"/>
<rect fill="#e6e6ff" x="156.9" y="240.6" width="5.0" height="2.1"/>
<polygon fill="#e6e6ff" points="163.8,238.8 167.5,238.1 172.5,243.8 176.2,252.0 165.0,252.0 165.0,245.0"/>
<polygon fill="#e6e6ff" points="120.0,240.0 125.0,238.8 131.2,241.2 127.5,246.2 122.5,252.0 120.0,252.0"/>
<polygon fill="#e6e6ff" points="127.5,252.0 132.5,245.6 141.2,245.0 143.8,252.0"/>
<polygon fill="#e6e6ff" points="120.0,194.0 124.0,194.0 125.0,197.5 122.5,203.8 120.0,206.2"/>
<path fill="#7eb106" d="M140.0 201.2H142.5V207.5H140.0ZM154.4 211.2H157.5V215.0H154.4ZM161.2 213.8H163.1V217.5H161.2ZM124.4 213.8H125.6V215.6H124.4ZM131.9 203.8H133.8V205.0H131.9ZM158.1 200.0H160.0V207.5H158.1Z"/>
</g>
<defs><radialGradient id="rg1" cx="0.5" cy="0.5" r="0.5"><stop offset="0" stop-color="#7eb106"/><stop offset="0.3" stop-color="#74aa0e"/><stop offset="0.6" stop-color="#5f9a20"/><stop offset="0.85" stop-color="#448a2c"/><stop offset="1" stop-color="#338033"/></radialGradient></defs>
<ellipse cx="510.6" cy="290.0" rx="35.0" ry="26.0" fill="url(#rg1)" shape-rendering="auto"/>
<polyline fill="none" stroke="#86b508" stroke-width="0.8" points="467.0,291.4 483.0,295.2 497.0,297.4 511.0,299.2 513.0,288.4 517.0,280.4 523.0,275.2 531.0,279.2 535.0,282.4 540.0,284.4"/>
<polyline fill="none" stroke="#6aa318" stroke-width="1.0" points="480.6,280.0 484.2,288.0 483.0,298.0 486.2,306.4"/>
<defs><clipPath id="c4"><polygon points="470.0,364.0 478.0,367.0 484.0,370.0 490.0,373.6 496.0,371.0 502.0,368.0 504.0,362.0 504.0,352.0 501.0,350.0 498.0,338.0 498.0,330.0 557.0,330.0 557.0,438.0 490.0,438.0 492.0,430.0 493.0,424.0 492.0,414.0 489.0,408.0 484.0,403.0 478.0,399.0 470.0,397.0 464.0,394.0 468.0,390.0 470.0,382.0 472.0,370.0"/></clipPath></defs><g clip-path="url(#c4)">
<defs><linearGradient id="lg4" gradientUnits="userSpaceOnUse" x1="556.4" y1="340.0" x2="482.5" y2="436.8"><stop offset="0" stop-color="#338033"/><stop offset="0.13" stop-color="#338033"/><stop offset="0.2" stop-color="#4f9025"/><stop offset="0.29" stop-color="#69a31a"/><stop offset="0.42" stop-color="#7eb106"/><stop offset="0.52" stop-color="#6ca518"/><stop offset="0.65" stop-color="#64a01c"/><stop offset="1" stop-color="#64a01c"/></linearGradient><radialGradient id="rg4" cx="0.5" cy="0.5" r="0.5"><stop offset="0" stop-color="#3a8230"/><stop offset="0.5" stop-color="#448a2c" stop-opacity="0.85"/><stop offset="1" stop-color="#5f9a20" stop-opacity="0"/></radialGradient></defs>
<rect x="462.0" y="330.0" width="96.0" height="118.0" fill="url(#lg4)" shape-rendering="auto"/>
<ellipse cx="512.0" cy="400.0" rx="22.0" ry="12.4" fill="url(#rg4)" transform="rotate(22 512.0 400.0)" shape-rendering="auto"/>
<ellipse cx="518.0" cy="420.0" rx="24.0" ry="5.6" fill="#7eb106" filter="url(#bl2)" shape-rendering="auto"/>
<polygon fill="#338033" points="496.0,449.0 500.0,435.6 508.0,430.0 522.0,428.0 538.0,431.0 558.0,437.0 558.0,449.0" filter="url(#bl1)" shape-rendering="auto"/>
<polyline fill="none" stroke="#8aba08" stroke-width="0.6" points="505.2,354.0 516.0,354.4 526.0,353.6 534.0,356.0 540.0,360.0 548.0,365.0 556.4,369.0"/>
<polyline fill="none" stroke="#8aba08" stroke-width="0.6" points="526.0,353.6 528.0,346.0 530.0,340.0"/>
<polyline fill="none" stroke="#8aba08" stroke-width="0.6" points="540.0,352.4 541.0,346.0"/>
<polyline fill="none" stroke="#86b508" stroke-width="0.6" points="504.0,376.0 516.0,383.0 530.0,393.0 542.0,400.0 556.4,410.0"/>
</g>
<defs><clipPath id="c5"><polygon points="95.0,115.0 175.8,115.0 175.8,140.0 170.0,141.9 160.0,145.6 150.0,148.8 145.0,151.2 136.2,154.0 126.2,156.9 117.5,156.9 107.5,155.0 100.0,151.2 95.0,147.8"/></clipPath></defs><g clip-path="url(#c5)">
<rect fill="#7eb106" x="95.0" y="115.0" width="81.2" height="43.8"/>
<polygon fill="#e6e6ff" points="100.0,125.6 113.8,125.6 116.9,127.5 116.9,140.0 113.8,146.2 107.5,148.8 102.5,145.0 100.0,140.0"/>
<polygon fill="#e6e6ff" points="121.9,124.4 133.8,127.5 138.8,131.2 140.6,140.0 138.8,146.2 132.5,151.2 126.2,153.8 121.9,152.5 121.2,140.0"/>
<polygon fill="#e6e6ff" points="139.4,120.0 147.5,115.0 150.6,115.0 150.6,146.2 147.5,148.8 144.4,146.9 143.1,137.5 141.9,130.0"/>
<path fill="#7eb106" d="M101.9 132.5H103.8V135.0H101.9ZM108.8 133.8H111.2V135.6H108.8ZM106.2 138.8H111.2V140.0H106.2ZM108.1 143.1H111.2V145.6H108.1ZM123.1 143.1H125.6V145.6H123.1ZM133.1 143.1H137.5V145.6H133.1ZM130.0 133.1H131.2V135.0H130.0ZM121.9 133.8H123.5V137.5H121.9ZM136.2 130.0H138.1V131.9H136.2ZM102.5 139.4H103.8V141.2H102.5Z"/>
<polygon fill="#e6e6ff" points="101.9,116.2 106.9,115.6 106.2,118.8 102.5,118.8"/>
<polygon fill="#e6e6ff" points="121.9,115.0 132.5,115.0 132.5,121.2 127.5,121.2 125.0,118.8"/>
<path fill="#e6e6ff" d="M115.6 115.0H118.1V120.0H115.6ZM136.2 122.5H138.8V125.0H136.2ZM151.9 118.5H166.2V121.2H151.9ZM170.0 115.0H175.8V117.5H170.0ZM173.1 122.5H175.8V126.2H173.1ZM172.5 130.0H175.8V131.9H172.5ZM96.2 130.0H98.1V135.6H96.2ZM133.8 116.2H135.6V120.0H133.8ZM113.8 118.1H115.2V120.6H113.8Z"/>
<polygon fill="#7eb106" points="137.5,151.2 145.0,146.9 148.1,147.8 145.0,151.2 138.8,153.8"/>
</g>
<defs><clipPath id="c6"><polygon points="125.0,92.5 205.8,92.5 205.8,107.5 200.0,112.5 195.0,117.5 190.0,123.8 183.8,130.0 180.0,135.0 176.0,137.0 176.0,115.0 125.0,115.0"/></clipPath></defs><g clip-path="url(#c6)">
<rect fill="#7eb106" x="125.0" y="85.0" width="81.2" height="67.5"/>
<polygon fill="#e6e6ff" points="125.0,93.8 132.5,93.8 137.5,100.0 143.8,103.8 145.0,108.8 150.0,110.0 156.2,106.2 161.2,108.8 162.5,115.0 125.0,115.0"/>
<path fill="#7eb106" d="M125.0 96.8h1.8v1.7h-1.8zM128.0 96.8h0.7v1.7h-0.7zM129.5 96.8h3.5v2.4h-3.5zM125.0 98.2h4.6v2.2h-4.6zM134.0 98.2h1.2v4.0h-1.2zM129.5 99.8h0.7v2.1h-0.7zM129.5 101.2h3.7v2.2h-3.7zM135.5 101.2h5.2v1.2h-5.2zM134.0 102.8h2.0v2.2h-2.0zM137.0 102.8h1.3v1.4h-1.3zM131.0 104.2h0.6v2.1h-0.6zM141.5 104.2h6.2v3.4h-6.2zM143.0 104.2h4.3v1.0h-4.3zM129.5 105.8h1.9v4.2h-1.9zM143.0 105.8h6.0v0.7h-6.0zM131.0 107.2h1.2v1.1h-1.2zM132.5 107.2h1.3v1.8h-1.3zM137.0 107.2h4.1v1.2h-4.1zM155.0 107.2h1.7v2.2h-1.7zM134.0 108.8h3.6v1.0h-3.6zM152.0 108.8h4.0v2.8h-4.0zM132.5 110.2h1.8v1.1h-1.8zM137.0 110.2h0.8v1.7h-0.8zM140.0 110.2h1.9v1.6h-1.9zM146.0 110.2h2.4v1.3h-2.4zM150.5 110.2h2.4v1.8h-2.4zM137.0 111.8h4.9v2.1h-4.9zM140.0 111.8h4.5v2.4h-4.5zM141.5 111.8h2.7v2.7h-2.7zM135.5 113.2h4.1v0.8h-4.1zM143.0 113.2h1.7v0.7h-1.7zM146.0 113.2h2.0v2.2h-2.0z"/>
<path fill="#e6e6ff" d="M163.1 103.8H166.9V115.0H163.1ZM168.8 98.8H173.1V115.0H168.8ZM175.6 88.8H180.6V90.6H175.6ZM185.6 88.8H187.5V90.6H185.6ZM189.4 95.0H194.4V96.9H189.4ZM175.6 95.6H181.9V97.5H175.6ZM190.6 101.9H193.8V103.1H190.6ZM185.4 96.9H186.9V97.9H185.4Z"/>
<polygon fill="#e6e6ff" points="178.8,99.4 181.2,100.0 182.5,110.0 180.0,111.2 175.0,110.0 175.6,106.2 178.8,105.6"/>
<polygon fill="#e6e6ff" points="185.0,110.0 195.0,111.2 190.0,116.2 185.0,116.9 181.2,120.0 183.8,121.2 180.0,126.2 177.5,128.8 176.0,129.0 176.0,119.4 177.5,118.8 180.0,115.0"/>
<rect fill="#5f9a20" x="195.6" y="92.5" width="9.4" height="11.2"/>
<rect fill="#4f9025" x="197.5" y="93.8" width="5.6" height="7.5"/>
</g>
<polyline fill="none" stroke="#e6e6ff" stroke-width="1.6" points="284.0,58.0 292.0,56.0 300.0,53.0 308.0,46.0"/>
<polyline fill="none" stroke="#e6e6ff" stroke-width="1.6" points="310.0,54.0 315.0,48.0 321.0,44.0 327.0,40.4"/>
<path fill="#e6e6ff" d="M281.0 48.0H284.0V54.0H281.0ZM292.0 39.0H296.0V41.0H292.0ZM288.0 56.0H292.0V58.0H288.0ZM300.0 58.0H302.0V60.0H300.0ZM283.0 40.0H286.0V43.0H283.0Z"/>
<path fill="#2e7a3c" d="M291.0 30.4H300.0V34.0H291.0Z"/>
<polygon fill="#e6e6ff" points="232.0,176.4 245.0,176.0 249.4,178.0 249.4,182.2 232.0,181.4"/>
<polygon fill="#9999ff" points="238.0,266.0 245.0,262.0 246.0,263.6 240.0,267.0"/>
<path fill="#9999ff" d="M235.0 275.0H237.0V276.0H235.0ZM234.6 278.4H237.0V279.6H234.6Z"/>
<polygon fill="#9999ff" points="353.0,196.0 360.0,193.0 366.0,198.0 374.0,204.0 376.0,212.0 377.0,217.0 372.0,220.0 369.0,225.0 364.0,228.0 360.0,230.0 358.0,235.0 360.0,242.0 361.0,250.0 361.0,259.0 350.0,261.0 339.0,263.0 334.0,268.0 330.0,272.0 333.0,265.0 335.0,259.0 324.0,258.0 308.0,259.0 302.0,255.0 305.0,247.0 308.0,238.0 310.0,230.0 314.0,223.0 318.0,215.0 326.0,213.0 334.0,214.0 337.0,209.0 346.0,207.0 350.0,202.0"/>
<polygon fill="#e6e6ff" points="338.0,216.0 347.0,219.0 350.0,222.0 343.0,221.0"/>
<polygon fill="#e6e6ff" points="312.0,248.0 322.0,249.0 330.0,253.0 320.0,251.0"/>
<path fill="#e6e6ff" d="M351.0 215.0H353.0V218.0H351.0ZM323.0 227.0H324.4V229.0H323.0ZM335.0 207.6H336.4V210.0H335.0ZM370.0 220.0H371.6V222.0H370.0Z"/>
<polyline fill="none" stroke="#4d4dff" stroke-width="0.8" points="354.0,222.0 356.0,227.0"/>
<polyline fill="none" stroke="#4d4dff" stroke-width="0.8" points="358.4,226.6 356.0,230.0"/>
<polyline fill="none" stroke="#4d4dff" stroke-width="0.8" points="349.2,229.6 347.0,235.0"/>
<polyline fill="none" stroke="#4d4dff" stroke-width="0.6" points="345.6,238.0 345.0,241.0"/>
<path fill="#e6e6ff" d="M374.4 208.8h3.8v1.6h-3.8zM375.6 208.8h1.3v1.4h-1.3zM373.2 213.6h5.3v1.2h-5.3zM375.6 213.6h0.7v1.5h-0.7zM373.2 214.8h0.7v1.2h-0.7zM374.4 214.8h1.6v0.6h-1.6zM376.8 216.0h3.9v1.7h-3.9zM372.0 217.2h1.6v1.7h-1.6zM373.2 218.4h1.9v1.3h-1.9z"/>
<polygon fill="#7eb106" points="358.0,233.0 362.0,228.0 368.0,225.6 369.0,230.0 368.0,236.0 364.0,240.0 361.0,245.0 359.0,240.0"/>
<path fill="#7eb106" d="M379.9 190.0h2.3v1.9h-2.3zM390.4 190.0h5.4v0.9h-5.4zM391.9 190.0h2.7v2.1h-2.7zM384.4 191.5h2.0v1.8h-2.0zM385.9 191.5h2.9v1.6h-2.9zM390.4 191.5h2.1v1.5h-2.1zM385.9 193.0h1.4v1.0h-1.4zM387.4 193.0h2.3v1.6h-2.3zM388.9 193.0h1.3v0.9h-1.3zM390.4 193.0h2.2v2.0h-2.2zM387.4 194.5h2.3v0.6h-2.3zM390.4 194.5h2.1v0.8h-2.1zM381.4 196.0h3.7v2.1h-3.7zM385.9 196.0h1.0v0.8h-1.0zM387.4 196.0h1.4v1.1h-1.4zM388.9 196.0h3.2v1.2h-3.2zM390.4 196.0h5.4v1.9h-5.4zM385.9 197.5h1.1v1.1h-1.1zM388.9 197.5h4.7v1.6h-4.7zM390.4 197.5h2.5v1.9h-2.5zM391.9 199.0h1.2v1.3h-1.2zM384.4 200.5h3.8v1.3h-3.8zM385.9 200.5h0.9v1.4h-0.9zM390.4 200.5h1.5v0.6h-1.5zM391.9 200.5h2.1v2.1h-2.1zM390.4 202.0h4.3v1.5h-4.3zM391.9 202.0h0.9v1.1h-0.9zM388.9 203.5h1.1v2.4h-1.1zM391.9 203.5h0.8v0.9h-0.8zM382.9 205.0h1.2v2.2h-1.2zM385.9 205.0h1.3v1.8h-1.3zM388.9 205.0h0.7v0.9h-0.7zM390.4 205.0h1.5v1.4h-1.5zM393.4 205.0h0.8v2.0h-0.8zM382.9 206.5h1.1v1.2h-1.1zM385.9 206.5h4.5v1.8h-4.5zM390.4 206.5h2.0v1.4h-2.0zM391.9 206.5h4.5v1.9h-4.5zM381.4 208.0h5.9v1.7h-5.9zM382.9 208.0h5.2v0.8h-5.2zM387.4 208.0h1.9v2.2h-1.9zM390.4 208.0h4.7v1.0h-4.7zM382.9 209.5h2.2v2.0h-2.2zM388.9 209.5h3.8v1.3h-3.8zM387.4 211.0h3.4v0.6h-3.4zM393.4 211.0h4.1v1.9h-4.1zM381.4 212.5h2.9v1.2h-2.9zM391.9 212.5h0.7v1.1h-0.7zM379.9 214.0h2.3v1.1h-2.3zM381.4 214.0h5.7v0.9h-5.7zM385.9 214.0h6.3v1.9h-6.3zM391.9 214.0h3.0v2.0h-3.0zM379.9 215.5h2.9v3.2h-2.9zM381.4 215.5h2.5v2.3h-2.5zM384.4 215.5h1.7v1.4h-1.7zM381.4 217.0h4.6v3.8h-4.6zM382.9 217.0h1.8v4.0h-1.8zM385.9 217.0h3.0v2.2h-3.0zM387.4 217.0h6.5v1.8h-6.5zM385.9 218.5h3.1v0.8h-3.1zM387.4 218.5h2.8v0.8h-2.8zM388.9 218.5h2.5v2.7h-2.5zM390.4 218.5h1.7v1.4h-1.7zM382.9 220.0h1.7v1.5h-1.7zM384.4 220.0h1.6v1.8h-1.6zM384.4 221.5h6.9v1.1h-6.9zM387.4 221.5h1.8v1.3h-1.8zM378.4 223.0h0.6v1.6h-0.6zM379.9 223.0h1.7v4.7h-1.7zM381.4 223.0h0.8v2.2h-0.8zM384.4 223.0h1.2v2.3h-1.2zM378.4 224.5h1.2v3.1h-1.2zM382.9 224.5h1.3v1.7h-1.3zM378.4 226.0h1.2v2.3h-1.2zM381.4 226.0h1.5v0.9h-1.5zM384.4 226.0h6.6v1.7h-6.6zM376.9 227.5h1.2v1.5h-1.2zM381.4 227.5h1.0v1.7h-1.0zM382.9 227.5h6.0v4.0h-6.0zM372.4 230.5h6.7v1.1h-6.7zM373.9 230.5h3.9v1.4h-3.9zM375.4 230.5h2.3v2.2h-2.3zM375.4 232.0h3.4v1.4h-3.4zM378.4 232.0h2.8v2.3h-2.8z"/>
<polygon fill="#7eb106" points="412.0,220.0 415.0,212.0 420.0,198.0 424.0,198.0 424.0,210.0 429.2,214.0 429.2,219.6 420.0,218.4"/>
<polygon fill="#7eb106" points="388.0,228.0 396.0,220.0 404.0,218.0 412.0,219.2 404.0,221.2 396.0,224.0 390.0,228.0"/>
<defs><clipPath id="c7"><polygon points="206.0,125.0 201.0,130.0 194.8,135.0 188.5,139.8 182.2,142.8 176.0,145.6 176.0,191.8 256.8,191.8 256.8,125.0"/></clipPath></defs><g clip-path="url(#c7)">
<rect fill="#7eb106" x="176.0" y="125.0" width="81.2" height="67.5"/>
<polygon fill="#e6e6ff" points="187.9,148.8 198.5,135.6 201.0,137.5 194.8,143.8 191.0,151.9 188.5,150.0"/>
<polygon fill="#e6e6ff" points="192.2,151.9 196.0,145.0 202.2,138.1 206.0,143.8 205.4,150.0 202.2,153.8 200.4,157.5 194.8,156.2"/>
<polygon fill="#e6e6ff" points="207.2,138.8 212.2,136.9 214.8,142.5 217.2,146.2 217.9,150.0 213.5,151.9 207.2,151.2"/>
<polygon fill="#e6e6ff" points="212.2,130.0 218.5,128.8 226.0,133.8 226.0,137.5 222.2,143.8 218.5,137.5 214.8,133.8"/>
<polygon fill="#e6e6ff" points="207.2,153.1 219.8,151.9 220.4,172.5 217.2,171.9 212.2,168.1 207.2,162.5"/>
<polygon fill="#e6e6ff" points="182.9,163.8 187.9,160.6 194.8,162.5 194.8,171.2 197.9,175.0 196.6,177.5 191.0,172.5"/>
<polygon fill="#e6e6ff" points="196.6,165.0 202.9,163.8 204.8,168.8 201.0,171.2 196.6,168.8"/>
<polygon fill="#e6e6ff" points="196.6,175.0 204.8,173.1 207.2,175.0 204.8,177.5 198.5,178.8"/>
<polygon fill="#e6e6ff" points="209.1,172.5 213.5,171.2 219.8,175.0 222.2,179.4 213.5,180.0"/>
<polygon fill="#e6e6ff" points="229.8,136.9 236.0,133.8 237.2,136.9 233.5,138.8 231.0,142.5 229.1,141.9"/>
<path fill="#e6e6ff" d="M224.1 165.0H226.0V170.0H224.1ZM240.4 125.0H241.6V128.1H240.4ZM234.1 138.8H235.4V140.6H234.1Z"/>
<polygon fill="#e6e6ff" points="229.8,176.9 248.5,177.5 248.5,180.0 256.8,181.9 256.8,191.8 248.5,191.8 243.5,186.9 234.8,186.2 229.8,181.9"/>
<path fill="#7eb106" d="M215.4 130.0H220.4V131.9H215.4ZM194.8 149.4H197.9V151.9H194.8ZM188.5 164.4H191.0V166.9H188.5ZM207.9 154.4H209.1V155.6H207.9ZM208.5 140.0H210.0V148.8H208.5ZM212.9 142.5H214.1V145.0H212.9ZM231.0 178.8H236.0V180.6H231.0ZM238.5 180.0H246.0V182.5H238.5ZM249.8 182.5H256.0V185.0H249.8Z"/>
<rect fill="#6aa318" x="227.9" y="165.0" width="26.9" height="9.4"/>
<rect fill="#3d8a30" x="228.5" y="166.9" width="13.1" height="7.1"/>
<rect fill="#2e7a3c" x="234.8" y="167.8" width="6.9" height="6.0"/>
<rect fill="#4f9025" x="245.4" y="168.1" width="5.0" height="3.8"/>
</g>
<polygon fill="#e6e6ff" points="198.3,115.0 193.7,120.0 189.5,124.2 185.3,128.4 181.9,132.6 177.7,136.0 173.5,138.5 168.5,141.0 162.6,143.6 156.7,145.7 150.0,148.2 150.0,157.0 153.4,154.5 158.4,153.2 165.1,152.0 171.0,152.0 177.7,149.4 174.4,148.6 177.7,145.2 181.9,142.7 187.0,140.2 191.2,136.8 195.3,133.5 200.4,131.8 204.0,131.0 208.8,127.6 208.8,115.0"/>
<defs><clipPath id="c8"><polygon points="204.0,131.0 200.4,131.8 195.3,133.5 191.2,136.8 187.0,140.2 181.9,142.7 177.7,145.2 174.4,148.6 177.7,149.4 171.0,152.0 169.3,155.3 167.6,160.0 204.0,160.0"/></clipPath></defs><g clip-path="url(#c8)">
<rect fill="#7eb106" x="150.0" y="115.0" width="54.6" height="45.3"/>
<polygon fill="#e6e6ff" points="197.0,135.2 200.4,134.7 199.5,137.7 197.0,141.0 193.7,146.1 190.3,150.3 187.8,150.3 192.0,144.4 195.3,139.4"/>
<polygon fill="#e6e6ff" points="191.2,153.6 194.5,148.6 197.0,148.6 200.4,152.8 200.4,155.3 197.0,153.6 194.5,157.0 192.0,155.3"/>
<polygon fill="#e6e6ff" points="202.1,123.4 204.0,123.0 204.0,126.8 202.5,126.3"/>
</g>
<path fill="#e6e6ff" d="M152.5 118.4H166.0V121.7H152.5ZM181.9 117.5H184.0V121.7H181.9Z"/>
<polygon fill="#e6e6ff" points="172.3,121.7 178.6,120.9 180.2,123.4 177.7,124.2 179.4,127.6 178.6,130.1 176.9,127.6 174.4,125.9 172.3,124.2"/>
<polygon fill="#e6e6ff" points="172.3,130.1 178.6,129.3 180.2,131.8 177.7,133.1 172.7,131.8"/>
<polygon fill="#e6e6ff" points="192.0,134.4 206.0,130.0 220.0,123.0 226.0,126.0 226.0,146.0 221.0,150.0 221.0,168.0 225.0,174.0 220.0,176.0 200.0,174.0 184.0,164.0 190.0,156.0 194.0,146.0 200.0,136.4"/>
<polyline fill="none" stroke="#7eb106" stroke-width="2.6" points="207.0,131.0 210.0,140.0 218.0,146.0 222.4,149.6"/>
<polyline fill="none" stroke="#7eb106" stroke-width="2.6" points="195.6,139.6 202.0,148.0 208.0,160.0 206.4,174.4"/>
<polyline fill="none" stroke="#7eb106" stroke-width="2.2" points="190.0,154.4 200.0,158.4 210.0,156.0 220.4,152.0"/>
<polyline fill="none" stroke="#7eb106" stroke-width="2.2" points="185.6,162.4 198.0,166.4 208.4,172.4"/>
<polyline fill="none" stroke="#7eb106" stroke-width="2.0" points="216.4,129.6 218.4,138.0 217.2,146.4"/>
<polyline fill="none" stroke="#7eb106" stroke-width="1.6" points="201.0,137.0 207.0,140.0 213.0,137.0"/>
<polyline fill="none" stroke="#7eb106" stroke-width="1.8" points="210.0,160.0 215.0,166.0 220.0,174.0"/>
<path fill="#7eb106" d="M216.0 131.0H220.0V134.0H216.0ZM193.0 146.0H196.0V149.0H193.0ZM212.4 150.0H215.0V153.0H212.4ZM203.0 168.0H205.6V170.4H203.0ZM190.0 159.0H192.0V162.0H190.0Z"/>
<polyline fill="none" stroke="#7eb106" stroke-width="2.4" points="172.0,149.0 188.0,141.0 200.0,134.0 208.0,129.0 222.4,121.6"/>
<path fill="#e6e6ff" d="M72.0 85.0h5.1v0.8h-5.1zM80.0 85.0h6.7v5.1h-6.7zM67.2 86.6h1.8v3.7h-1.8zM70.4 88.2h3.1v0.7h-3.1zM86.4 88.2h2.2v2.0h-2.2zM94.4 88.2h4.6v3.4h-4.6zM64.0 89.8h3.9v4.5h-3.9zM78.4 91.4h0.8v0.7h-0.8zM96.0 91.4h3.3v1.1h-3.3zM73.6 93.0h1.3v1.6h-1.3zM75.2 93.0h2.1v1.4h-2.1zM92.8 93.0h0.9v3.5h-0.9zM97.6 93.0h1.6v0.7h-1.6zM99.2 93.0h1.1v1.5h-1.1zM68.8 94.6h1.7v1.9h-1.7zM65.6 96.2h1.5v1.7h-1.5zM68.8 96.2h1.4v2.0h-1.4zM97.6 96.2h3.1v1.5h-3.1zM80.0 97.8h2.3v1.7h-2.3zM83.2 97.8h1.7v2.2h-1.7zM65.6 99.4h7.6v1.3h-7.6zM92.8 99.4h2.3v1.4h-2.3zM94.4 99.4h2.2v1.4h-2.2zM100.8 99.4h1.8v3.9h-1.8zM67.2 102.6h1.6v1.7h-1.6zM75.2 102.6h4.2v3.2h-4.2zM88.0 102.6h4.2v0.8h-4.2zM99.2 102.6h0.9v2.3h-0.9zM88.0 104.2h4.3v2.1h-4.3zM76.8 105.8h2.4v0.7h-2.4zM92.8 105.8h2.2v1.5h-2.2zM100.8 105.8h4.7v5.0h-4.7zM76.8 107.4h2.1v2.6h-2.1zM86.4 107.4h1.6v3.4h-1.6zM88.0 107.4h1.5v2.9h-1.5zM96.0 107.4h2.1v1.9h-2.1zM81.6 113.8h4.4v1.2h-4.4zM84.8 113.8h2.5v2.7h-2.5zM72.0 115.4h1.3v1.2h-1.3zM73.6 115.4h0.7v4.9h-0.7zM75.2 118.6h1.6v2.5h-1.6zM84.8 118.6h0.9v1.5h-0.9zM91.2 118.6h4.0v1.2h-4.0zM80.0 121.8h1.8v0.6h-1.8zM89.6 121.8h2.4v3.7h-2.4zM81.6 123.4h4.1v1.4h-4.1zM88.0 123.4h2.3v1.5h-2.3zM97.6 123.4h1.6v2.1h-1.6zM64.0 125.0h2.3v1.1h-2.3zM84.8 125.0h2.4v1.1h-2.4zM91.2 125.0h2.1v1.6h-2.1zM83.2 126.6h2.0v2.5h-2.0zM97.6 126.6h2.7v1.6h-2.7zM99.2 128.2h0.9v2.1h-0.9zM89.6 129.8h0.8v3.5h-0.8zM83.2 131.4h0.9v1.8h-0.9zM86.4 131.4h2.5v0.7h-2.5zM96.0 133.0h4.1v2.5h-4.1zM67.2 134.6h3.4v1.4h-3.4zM89.6 134.6h4.4v2.4h-4.4zM94.4 134.6h1.6v2.3h-1.6zM89.6 136.2h0.9v1.3h-0.9zM94.4 136.2h2.5v2.4h-2.5zM92.8 139.4h1.3v1.5h-1.3z"/>
<path fill="#e6e6ff" d="M111.2 101.6h1.5v2.4h-1.5zM112.8 101.6h1.7v0.9h-1.7zM125.6 101.6h2.1v2.0h-2.1zM132.0 101.6h4.2v2.3h-4.2zM135.2 101.6h1.2v4.9h-1.2zM140.0 101.6h2.0v1.9h-2.0zM141.6 101.6h3.3v1.8h-3.3zM106.4 103.2h2.9v0.7h-2.9zM114.4 103.2h1.4v2.1h-1.4zM120.8 103.2h0.7v2.2h-0.7zM135.2 103.2h1.5v1.0h-1.5zM144.8 103.2h4.2v2.5h-4.2zM101.6 104.8h0.7v3.9h-0.7zM103.2 104.8h0.8v2.3h-0.8zM106.4 104.8h2.7v1.0h-2.7zM119.2 104.8h2.0v2.4h-2.0zM120.8 104.8h2.3v0.8h-2.3zM128.8 104.8h2.1v1.3h-2.1zM135.2 104.8h1.2v1.9h-1.2zM148.0 104.8h2.3v2.4h-2.3zM108.0 106.4h2.7v3.5h-2.7zM119.2 106.4h2.2v1.6h-2.2zM124.0 106.4h1.2v3.7h-1.2zM128.8 106.4h1.7v2.4h-1.7zM130.4 106.4h4.0v1.5h-4.0zM148.0 106.4h0.7v1.8h-0.7zM122.4 108.0h2.4v1.6h-2.4zM127.2 108.0h1.8v0.8h-1.8zM133.6 108.0h2.2v4.7h-2.2zM141.6 108.0h1.8v0.9h-1.8zM117.6 109.6h1.4v1.1h-1.4zM127.2 109.6h1.3v1.5h-1.3zM128.8 109.6h4.1v1.5h-4.1zM140.0 109.6h3.5v1.0h-3.5zM141.6 109.6h2.4v1.5h-2.4zM104.8 111.2h4.0v1.5h-4.0zM106.4 111.2h1.1v2.8h-1.1zM108.0 111.2h1.3v1.8h-1.3zM120.8 111.2h0.7v1.0h-0.7zM125.6 111.2h2.1v2.6h-2.1zM146.4 111.2h1.6v0.6h-1.6zM116.0 112.8h1.6v1.1h-1.6zM117.6 112.8h1.7v1.5h-1.7zM122.4 112.8h1.4v2.0h-1.4zM127.2 112.8h1.2v2.2h-1.2zM128.8 112.8h1.5v0.7h-1.5zM130.4 112.8h1.9v0.7h-1.9zM133.6 112.8h6.9v2.1h-6.9zM138.4 112.8h2.2v1.5h-2.2zM144.8 112.8h1.5v1.1h-1.5zM146.4 112.8h3.2v5.0h-3.2zM149.6 112.8h6.4v2.5h-6.4zM120.8 114.4h0.8v2.5h-0.8zM122.4 114.4h2.2v2.4h-2.2zM127.2 114.4h2.2v2.8h-2.2zM140.0 114.4h2.4v1.9h-2.4zM143.2 114.4h1.1v2.1h-1.1zM149.6 114.4h7.6v3.0h-7.6zM104.8 116.0h2.1v2.1h-2.1zM108.0 116.0h2.2v2.6h-2.2zM109.6 116.0h5.0v0.8h-5.0zM114.4 116.0h2.1v3.2h-2.1zM117.6 116.0h1.2v0.9h-1.2zM127.2 116.0h4.3v4.0h-4.3zM130.4 116.0h2.8v0.9h-2.8zM136.8 116.0h2.3v2.4h-2.3zM141.6 116.0h1.9v2.1h-1.9zM144.8 116.0h2.4v2.4h-2.4zM149.6 116.0h2.3v4.8h-2.3zM108.0 117.6h3.8v1.2h-3.8zM133.6 117.6h2.0v1.9h-2.0zM148.0 117.6h2.0v2.4h-2.0zM101.6 119.2h1.1v1.4h-1.1zM104.8 119.2h5.7v1.7h-5.7zM109.6 119.2h2.3v0.6h-2.3zM133.6 119.2h1.5v1.4h-1.5zM140.0 119.2h3.6v2.3h-3.6zM144.8 119.2h1.0v2.1h-1.0zM128.8 120.8h5.3v1.2h-5.3zM146.4 120.8h1.4v5.0h-1.4zM114.4 122.4h2.9v2.3h-2.9zM117.6 122.4h2.0v3.2h-2.0zM124.0 122.4h1.2v1.5h-1.2zM125.6 122.4h3.9v1.5h-3.9zM128.8 122.4h2.3v1.6h-2.3zM136.8 122.4h4.0v1.7h-4.0zM140.0 122.4h4.5v3.6h-4.5zM141.6 122.4h4.2v2.3h-4.2zM148.0 122.4h2.0v1.4h-2.0zM104.8 124.0h4.1v3.9h-4.1zM112.8 124.0h6.2v2.4h-6.2zM128.8 124.0h0.7v2.5h-0.7zM130.4 124.0h0.9v1.2h-0.9zM135.2 124.0h5.3v1.8h-5.3zM140.0 124.0h2.1v0.7h-2.1zM143.2 124.0h1.8v1.6h-1.8zM112.8 125.6h1.3v2.1h-1.3zM143.2 125.6h0.9v0.9h-0.9zM114.4 127.2h0.7v1.7h-0.7zM124.0 127.2h2.4v2.6h-2.4zM125.6 127.2h1.7v1.4h-1.7zM133.6 127.2h5.2v0.8h-5.2zM143.2 127.2h2.6v2.0h-2.6zM146.4 127.2h4.1v1.8h-4.1zM108.0 128.8h6.2v1.3h-6.2zM109.6 128.8h1.2v5.0h-1.2zM116.0 128.8h4.6v2.3h-4.6zM125.6 128.8h4.8v1.6h-4.8zM138.4 128.8h1.2v2.2h-1.2zM108.0 130.4h1.1v2.0h-1.1zM130.4 130.4h2.0v2.2h-2.0zM128.8 132.0h0.9v1.5h-0.9zM114.4 133.6h6.4v1.9h-6.4zM120.8 133.6h2.5v1.7h-2.5zM112.8 136.8h1.5v1.7h-1.5z"/>
<path fill="#e6e6ff" d="M124.8 71.6h2.2v0.7h-2.2zM147.2 71.6h1.3v2.2h-1.3zM148.8 73.2h3.7v1.8h-3.7zM163.2 73.2h2.3v0.9h-2.3zM118.4 74.8h1.1v2.2h-1.1zM153.6 74.8h5.7v1.2h-5.7zM128.0 76.4h7.6v2.4h-7.6zM171.2 76.4h1.9v1.0h-1.9zM128.0 78.0h2.0v0.8h-2.0zM139.2 78.0h3.7v0.8h-3.7zM144.0 78.0h7.3v1.6h-7.3zM150.4 78.0h4.6v2.1h-4.6zM156.8 78.0h1.3v1.2h-1.3zM139.2 79.6h2.5v1.2h-2.5zM153.6 79.6h1.0v1.4h-1.0zM163.2 79.6h4.9v2.1h-4.9zM169.6 79.6h3.9v1.5h-3.9zM134.4 81.2h3.0v0.8h-3.0zM136.0 81.2h2.5v2.5h-2.5zM152.0 81.2h2.0v1.9h-2.0zM164.8 81.2h1.9v2.2h-1.9zM118.4 82.8h2.0v2.2h-2.0zM121.6 82.8h2.3v1.6h-2.3zM148.8 82.8h2.2v2.2h-2.2zM152.0 82.8h1.9v1.4h-1.9zM147.2 84.4h4.1v1.3h-4.1zM120.0 86.0h1.4v1.0h-1.4zM137.6 86.0h0.8v1.7h-0.8zM126.4 87.6h2.8v1.8h-2.8zM160.0 87.6h3.5v1.1h-3.5zM126.4 89.2h1.8v1.6h-1.8zM129.6 89.2h1.1v1.0h-1.1zM132.8 89.2h1.1v2.5h-1.1zM160.0 89.2h2.0v2.4h-2.0zM115.2 90.8h1.4v1.1h-1.4zM153.6 90.8h4.7v1.9h-4.7zM158.4 90.8h1.6v2.0h-1.6zM160.0 90.8h1.1v5.0h-1.1zM115.2 92.4h4.1v1.2h-4.1zM139.2 92.4h1.4v1.3h-1.4zM142.4 92.4h2.0v1.9h-2.0zM156.8 94.0h2.2v2.1h-2.2zM139.2 97.2h2.3v0.8h-2.3zM145.6 97.2h2.3v1.2h-2.3zM144.0 98.8h0.8v1.5h-0.8zM150.4 98.8h4.8v0.9h-4.8z"/>
</g>
<rect x="60.5" y="29.3" width="495.8" height="456.9" fill="none" stroke="#000" stroke-width="1.1"/>
<line x1="55.6" y1="29.3" x2="60.5" y2="29.3" stroke="#000" stroke-width="1.1"/>
<text x="49.3" y="35.7" font-size="14" text-anchor="end" textLength="37.4" lengthAdjust="spacingAndGlyphs">49.20</text>
<line x1="55.6" y1="100.7" x2="60.5" y2="100.7" stroke="#000" stroke-width="1.1"/>
<text x="49.3" y="107.1" font-size="14" text-anchor="end" textLength="37.4" lengthAdjust="spacingAndGlyphs">49.15</text>
<line x1="55.6" y1="172.0" x2="60.5" y2="172.0" stroke="#000" stroke-width="1.1"/>
<text x="49.3" y="178.4" font-size="14" text-anchor="end" textLength="37.4" lengthAdjust="spacingAndGlyphs">49.10</text>
<line x1="55.6" y1="243.4" x2="60.5" y2="243.4" stroke="#000" stroke-width="1.1"/>
<text x="49.3" y="249.8" font-size="14" text-anchor="end" textLength="37.4" lengthAdjust="spacingAndGlyphs">49.05</text>
<line x1="55.6" y1="314.8" x2="60.5" y2="314.8" stroke="#000" stroke-width="1.1"/>
<text x="49.3" y="321.2" font-size="14" text-anchor="end" textLength="37.4" lengthAdjust="spacingAndGlyphs">49.00</text>
<line x1="55.6" y1="386.1" x2="60.5" y2="386.1" stroke="#000" stroke-width="1.1"/>
<text x="49.3" y="392.5" font-size="14" text-anchor="end" textLength="37.4" lengthAdjust="spacingAndGlyphs">48.95</text>
<line x1="55.6" y1="457.5" x2="60.5" y2="457.5" stroke="#000" stroke-width="1.1"/>
<text x="49.3" y="463.9" font-size="14" text-anchor="end" textLength="37.4" lengthAdjust="spacingAndGlyphs">48.90</text>
<line x1="60.5" y1="486.2" x2="60.5" y2="491.1" stroke="#000" stroke-width="1.1"/>
<text transform="translate(61.0,514.7) rotate(-20)" font-size="14" text-anchor="middle" textLength="48.5" lengthAdjust="spacingAndGlyphs">−123.2</text>
<line x1="155.9" y1="486.2" x2="155.9" y2="491.1" stroke="#000" stroke-width="1.1"/>
<text transform="translate(156.4,514.7) rotate(-20)" font-size="14" text-anchor="middle" textLength="48.5" lengthAdjust="spacingAndGlyphs">−123.1</text>
<line x1="251.3" y1="486.2" x2="251.3" y2="491.1" stroke="#000" stroke-width="1.1"/>
<text transform="translate(251.8,514.7) rotate(-20)" font-size="14" text-anchor="middle" textLength="48.5" lengthAdjust="spacingAndGlyphs">−123.0</text>
<line x1="346.7" y1="486.2" x2="346.7" y2="491.1" stroke="#000" stroke-width="1.1"/>
<text transform="translate(347.2,514.7) rotate(-20)" font-size="14" text-anchor="middle" textLength="48.5" lengthAdjust="spacingAndGlyphs">−122.9</text>
<line x1="442.1" y1="486.2" x2="442.1" y2="491.1" stroke="#000" stroke-width="1.1"/>
<text transform="translate(442.6,514.7) rotate(-20)" font-size="14" text-anchor="middle" textLength="48.5" lengthAdjust="spacingAndGlyphs">−122.8</text>
<line x1="537.5" y1="486.2" x2="537.5" y2="491.1" stroke="#000" stroke-width="1.1"/>
<text transform="translate(538.0,514.7) rotate(-20)" font-size="14" text-anchor="middle" textLength="48.5" lengthAdjust="spacingAndGlyphs">−122.7</text>
<text x="308.3" y="21.6" font-size="16" text-anchor="middle" textLength="208" lengthAdjust="spacingAndGlyphs">7:45:00 after earthquake</text>
<rect x="586.5" y="87.60" width="18.1" height="45.14" fill="#ff0000" shape-rendering="crispEdges"/>
<rect x="586.5" y="132.44" width="18.1" height="45.14" fill="#ff4d4d" shape-rendering="crispEdges"/>
<rect x="586.5" y="177.28" width="18.1" height="45.14" fill="#ff9999" shape-rendering="crispEdges"/>
<rect x="586.5" y="222.11" width="18.1" height="45.14" fill="#ffcccc" shape-rendering="crispEdges"/>
<rect x="586.5" y="266.95" width="18.1" height="45.14" fill="#0000ff" shape-rendering="crispEdges"/>
<rect x="586.5" y="311.79" width="18.1" height="45.14" fill="#4d4dff" shape-rendering="crispEdges"/>
<rect x="586.5" y="356.62" width="18.1" height="45.14" fill="#9999ff" shape-rendering="crispEdges"/>
<rect x="586.5" y="401.46" width="18.1" height="45.14" fill="#e6e6ff" shape-rendering="crispEdges"/>
<path d="M586.5 87.6 L595.5 68.8 L604.6 87.6 Z" fill="#ff00ff"/>
<path d="M586.5 446.3 L586.5 87.6 L595.5 68.8 L604.6 87.6 L604.6 446.3 Z" fill="none" stroke="#000" stroke-width="1.1" stroke-linejoin="miter"/>
<line x1="604.6" y1="87.6" x2="609.5" y2="87.6" stroke="#000" stroke-width="1.1"/>
<text x="615.4" y="94.0" font-size="14" textLength="20" lengthAdjust="spacingAndGlyphs">6.0</text>
<line x1="604.6" y1="132.4" x2="609.5" y2="132.4" stroke="#000" stroke-width="1.1"/>
<text x="615.4" y="138.8" font-size="14" textLength="20" lengthAdjust="spacingAndGlyphs">4.5</text>
<line x1="604.6" y1="177.3" x2="609.5" y2="177.3" stroke="#000" stroke-width="1.1"/>
<text x="615.4" y="183.7" font-size="14" textLength="20" lengthAdjust="spacingAndGlyphs">3.0</text>
<line x1="604.6" y1="222.1" x2="609.5" y2="222.1" stroke="#000" stroke-width="1.1"/>
<text x="615.4" y="228.5" font-size="14" textLength="20" lengthAdjust="spacingAndGlyphs">2.5</text>
<line x1="604.6" y1="267.0" x2="609.5" y2="267.0" stroke="#000" stroke-width="1.1"/>
<text x="615.4" y="273.4" font-size="14" textLength="20" lengthAdjust="spacingAndGlyphs">2.0</text>
<line x1="604.6" y1="311.8" x2="609.5" y2="311.8" stroke="#000" stroke-width="1.1"/>
<text x="615.4" y="318.2" font-size="14" textLength="20" lengthAdjust="spacingAndGlyphs">1.5</text>
<line x1="604.6" y1="356.6" x2="609.5" y2="356.6" stroke="#000" stroke-width="1.1"/>
<text x="615.4" y="363.0" font-size="14" textLength="20" lengthAdjust="spacingAndGlyphs">1.0</text>
<line x1="604.6" y1="401.5" x2="609.5" y2="401.5" stroke="#000" stroke-width="1.1"/>
<text x="615.4" y="407.9" font-size="14" textLength="20" lengthAdjust="spacingAndGlyphs">0.5</text>
<line x1="604.6" y1="446.3" x2="609.5" y2="446.3" stroke="#000" stroke-width="1.1"/>
<text x="615.4" y="452.7" font-size="14" textLength="20" lengthAdjust="spacingAndGlyphs">0.0</text>
</svg></body></html>
